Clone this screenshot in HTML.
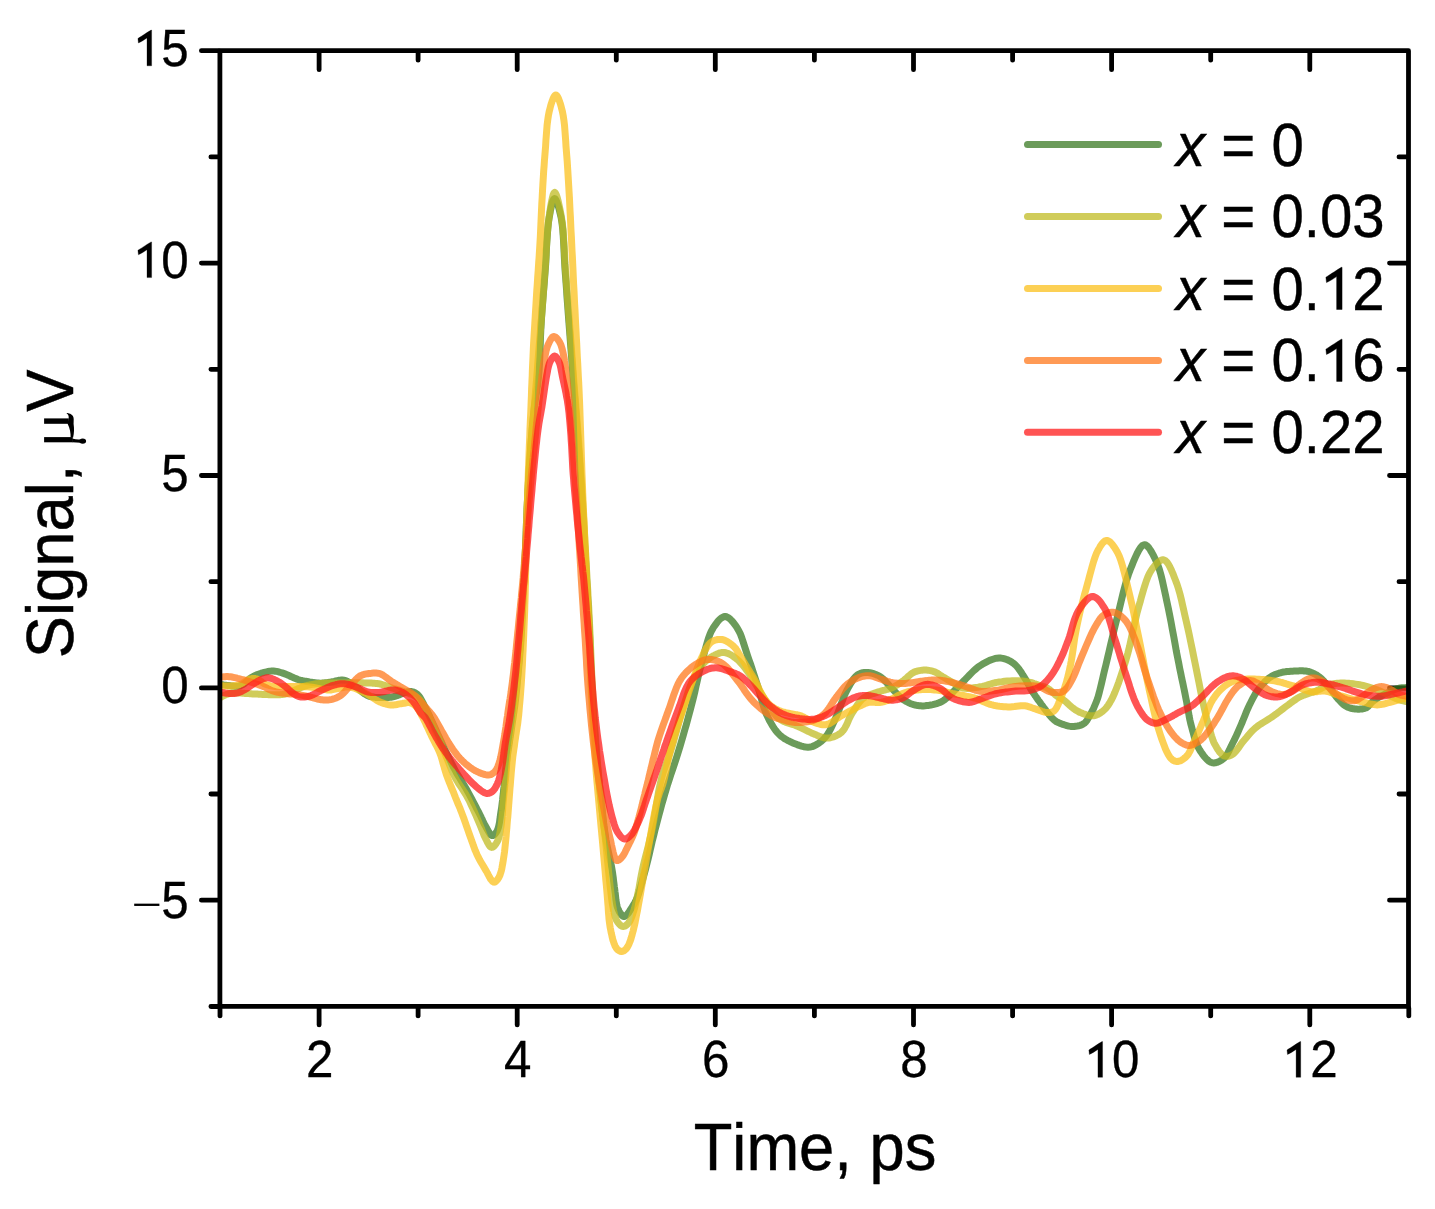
<!DOCTYPE html><html><head><meta charset="utf-8"><style>html,body{margin:0;padding:0;background:#fff;overflow:hidden}svg{display:block}</style></head><body><svg width="1435" height="1209" viewBox="0 0 1435 1209">
<rect width="100%" height="100%" fill="#fff"/>
<path d="M218.4,50.7h-17M218.4,263.1h-17M218.4,475.5h-17M218.4,687.9h-17M218.4,900.2h-17M218.4,156.9h-7.5M218.4,369.3h-7.5M218.4,581.7h-7.5M218.4,794.0h-7.5M218.4,1006.5h-7.5M1407.0,263.1h-17.5M1407.0,475.5h-17.5M1407.0,687.9h-17.5M1407.0,900.2h-17.5M1407.0,156.9h-8M1407.0,369.3h-8M1407.0,581.7h-8M1407.0,794.0h-8M319.1,1007.95v17M517.2,1007.95v17M715.3,1007.95v17M913.5,1007.95v17M1111.6,1007.95v17M1309.8,1007.95v17M220.0,1007.95v8M418.1,1007.95v8M616.3,1007.95v8M814.4,1007.95v8M1012.6,1007.95v8M1210.7,1007.95v8M1408.8,1007.95v8M319.1,52.15v17.5M517.2,52.15v17.5M715.3,52.15v17.5M913.5,52.15v17.5M1111.6,52.15v17.5M1309.8,52.15v17.5M418.1,52.15v8M616.3,52.15v8M814.4,52.15v8M1012.6,52.15v8M1210.7,52.15v8" fill="none" stroke="#000" stroke-width="4.8" stroke-linecap="round"/>
<defs><clipPath id="pc"><rect x="219.9" y="50.65" width="1188.6" height="955.8000000000001"/></clipPath></defs>
<g clip-path="url(#pc)" fill="none" stroke-width="7" stroke-linejoin="round" stroke-linecap="round">
<path d="M218.0,684.0 L219.4,684.2 L220.8,684.4 L222.2,684.6 L223.6,684.9 L225.0,685.1 L226.3,685.3 L227.7,685.4 L229.0,685.6 L230.1,685.7 L231.2,685.9 L232.4,686.0 L233.4,686.1 L234.5,686.2 L235.5,686.3 L236.5,686.3 L237.5,686.2 L238.2,686.1 L239.0,686.0 L239.6,685.8 L240.3,685.7 L241.0,685.4 L241.6,685.2 L242.3,684.9 L243.0,684.5 L244.0,683.9 L245.0,683.1 L246.0,682.2 L247.0,681.2 L248.0,680.2 L249.1,679.2 L250.2,678.3 L251.4,677.5 L252.7,676.8 L254.0,676.1 L255.4,675.4 L256.8,674.8 L258.3,674.2 L259.7,673.7 L261.2,673.2 L262.6,672.8 L264.0,672.4 L265.4,672.1 L266.7,671.8 L268.1,671.5 L269.5,671.3 L270.9,671.1 L272.3,671.1 L273.7,671.1 L275.1,671.2 L276.5,671.4 L277.9,671.7 L279.3,672.1 L280.7,672.5 L282.1,672.9 L283.5,673.4 L284.9,673.9 L286.5,674.5 L288.2,675.2 L289.9,676.0 L291.5,676.8 L293.2,677.5 L294.9,678.3 L296.5,678.9 L298.0,679.5 L299.2,679.9 L300.3,680.2 L301.4,680.4 L302.5,680.7 L303.6,680.9 L304.7,681.1 L305.8,681.3 L307.0,681.5 L308.5,681.8 L310.1,682.1 L311.7,682.3 L313.4,682.6 L315.1,682.8 L316.8,683.0 L318.4,683.1 L320.0,683.2 L321.4,683.2 L322.8,683.1 L324.2,683.0 L325.5,682.8 L326.9,682.6 L328.2,682.4 L329.6,682.2 L331.0,682.0 L332.6,681.7 L334.2,681.4 L335.8,681.0 L337.5,680.6 L339.1,680.3 L340.7,680.1 L342.3,680.0 L343.9,680.2 L345.5,680.6 L347.0,681.2 L348.5,682.0 L350.0,682.9 L351.5,683.9 L353.0,685.0 L354.5,686.0 L356.0,687.0 L357.5,688.1 L359.0,689.3 L360.4,690.5 L361.9,691.8 L363.4,693.0 L364.9,694.1 L366.6,695.1 L368.3,695.9 L370.5,696.6 L372.9,697.0 L375.4,697.4 L378.0,697.5 L380.5,697.6 L383.0,697.6 L385.3,697.6 L387.4,697.5 L388.6,697.4 L389.8,697.3 L390.9,697.2 L391.9,697.0 L393.0,696.8 L394.0,696.5 L395.0,696.3 L396.0,696.0 L397.0,695.7 L398.0,695.3 L399.0,694.9 L400.0,694.5 L401.0,694.1 L402.0,693.7 L403.0,693.3 L404.0,693.0 L405.0,692.7 L405.9,692.4 L406.9,692.2 L407.9,691.9 L408.8,691.7 L409.8,691.6 L410.7,691.5 L411.6,691.6 L412.5,691.8 L413.3,692.0 L414.1,692.3 L414.9,692.7 L415.7,693.2 L416.5,693.7 L417.3,694.3 L418.0,695.0 L419.0,696.1 L419.9,697.3 L420.7,698.7 L421.6,700.2 L422.4,701.8 L423.2,703.5 L424.1,705.2 L425.0,707.0 L426.3,709.6 L427.7,712.4 L429.2,715.4 L430.6,718.6 L432.1,721.7 L433.6,724.9 L435.0,728.0 L436.4,731.0 L437.6,733.7 L438.9,736.4 L440.1,739.1 L441.3,741.7 L442.4,744.3 L443.6,746.9 L444.8,749.5 L446.0,752.0 L447.1,754.3 L448.2,756.6 L449.3,758.8 L450.4,761.0 L451.5,763.2 L452.6,765.5 L453.8,767.7 L455.0,770.0 L456.4,772.6 L457.9,775.1 L459.5,777.7 L461.1,780.3 L462.7,783.0 L464.3,785.6 L465.9,788.3 L467.4,791.0 L469.0,793.9 L470.6,796.9 L472.3,800.0 L473.9,803.1 L475.5,806.1 L477.0,809.1 L478.5,811.9 L479.8,814.5 L480.7,816.3 L481.5,818.0 L482.3,819.6 L483.0,821.2 L483.7,822.7 L484.4,824.2 L485.2,825.6 L486.0,827.0 L486.7,828.3 L487.5,829.7 L488.3,831.1 L489.1,832.4 L489.8,833.7 L490.6,834.6 L491.4,835.3 L492.2,835.6 L492.8,835.5 L493.5,835.2 L494.2,834.8 L494.8,834.1 L495.5,833.4 L496.1,832.5 L496.7,831.6 L497.2,830.7 L497.9,829.0 L498.5,827.0 L499.0,824.8 L499.5,822.4 L499.8,819.9 L500.2,817.3 L500.5,814.7 L500.9,812.1 L501.4,809.2 L501.8,806.1 L502.2,803.0 L502.6,799.9 L502.9,796.7 L503.3,793.5 L503.6,790.3 L504.0,787.2 L504.3,784.1 L504.7,780.9 L505.0,777.7 L505.3,774.5 L505.6,771.4 L505.9,768.3 L506.2,765.3 L506.5,762.4 L506.8,760.1 L507.1,757.9 L507.4,755.7 L507.7,753.6 L508.0,751.5 L508.3,749.4 L508.7,747.2 L509.0,745.0 L509.4,742.6 L509.7,740.1 L510.1,737.7 L510.5,735.2 L510.9,732.7 L511.2,730.2 L511.6,727.6 L512.0,725.0 L512.4,722.0 L512.9,719.0 L513.3,715.9 L513.8,712.8 L514.2,709.7 L514.7,706.5 L515.1,703.3 L515.5,700.0 L515.9,696.4 L516.3,692.7 L516.7,689.0 L517.1,685.2 L517.4,681.4 L517.8,677.6 L518.2,673.8 L518.5,670.0 L518.8,666.3 L519.2,662.6 L519.5,658.9 L519.8,655.3 L520.1,651.6 L520.4,647.8 L520.7,644.0 L521.0,640.0 L521.3,635.3 L521.6,630.4 L521.8,625.4 L522.1,620.4 L522.3,615.3 L522.5,610.1 L522.8,605.0 L523.0,600.0 L523.2,595.1 L523.5,590.2 L523.7,585.4 L524.0,580.5 L524.2,575.6 L524.5,570.6 L524.7,565.4 L525.0,560.0 L525.3,553.0 L525.6,545.7 L525.9,538.1 L526.2,530.4 L526.5,522.6 L526.8,514.9 L527.1,507.3 L527.5,500.0 L527.8,493.5 L528.2,487.0 L528.5,480.7 L528.9,474.4 L529.3,468.1 L529.7,462.0 L530.1,455.9 L530.5,450.0 L530.9,444.8 L531.3,439.6 L531.7,434.5 L532.1,429.5 L532.5,424.5 L533.0,419.6 L533.5,414.8 L534.0,410.0 L534.5,405.7 L535.1,401.6 L535.7,397.6 L536.4,393.5 L537.0,389.5 L537.6,385.4 L538.1,381.0 L538.6,376.5 L539.1,370.5 L539.5,364.1 L539.8,357.5 L540.0,350.8 L540.3,343.9 L540.5,337.0 L540.8,330.2 L541.2,323.5 L541.6,316.9 L542.1,310.2 L542.6,303.6 L543.1,297.0 L543.6,290.4 L544.2,283.7 L544.7,277.1 L545.2,270.5 L545.7,263.7 L546.1,256.6 L546.4,249.4 L546.8,242.3 L547.3,235.4 L547.8,228.8 L548.4,222.8 L549.2,217.5 L549.8,214.4 L550.3,211.2 L551.0,208.0 L551.6,205.0 L552.3,202.4 L553.0,200.4 L553.8,199.0 L554.5,198.5 L555.3,199.0 L556.1,200.3 L557.0,202.4 L557.9,205.0 L558.8,207.9 L559.6,211.1 L560.4,214.4 L561.1,217.5 L562.0,222.8 L562.7,228.8 L563.2,235.4 L563.6,242.3 L564.0,249.4 L564.3,256.6 L564.7,263.7 L565.1,270.5 L565.6,277.1 L566.1,283.7 L566.6,290.4 L567.0,297.0 L567.5,303.6 L568.0,310.3 L568.5,316.9 L569.0,323.5 L569.5,330.1 L570.0,336.6 L570.5,343.2 L571.0,349.7 L571.5,356.3 L572.0,362.9 L572.5,369.6 L573.0,376.5 L573.6,384.2 L574.2,392.0 L574.9,400.0 L575.5,408.0 L576.2,416.1 L576.8,424.1 L577.4,432.1 L578.0,440.0 L578.5,447.6 L579.1,455.1 L579.6,462.6 L580.1,470.1 L580.6,477.6 L581.1,485.0 L581.5,492.5 L582.0,500.0 L582.5,507.5 L582.9,515.0 L583.4,522.4 L583.8,529.9 L584.2,537.4 L584.6,544.9 L585.1,552.4 L585.5,560.0 L585.9,567.8 L586.4,575.6 L586.8,583.4 L587.3,591.3 L587.7,599.2 L588.2,607.1 L588.6,615.0 L589.0,623.0 L589.4,631.3 L589.8,639.7 L590.1,648.1 L590.5,656.6 L590.8,665.1 L591.2,673.5 L591.6,681.8 L592.0,690.0 L592.4,697.7 L592.9,705.4 L593.3,713.0 L593.8,720.6 L594.3,728.1 L594.9,735.5 L595.4,742.8 L596.0,750.0 L596.6,756.5 L597.1,763.0 L597.8,769.3 L598.4,775.6 L599.0,781.9 L599.7,788.0 L600.3,794.1 L601.0,800.0 L601.6,805.3 L602.2,810.5 L602.7,815.6 L603.3,820.7 L603.9,825.7 L604.6,830.6 L605.3,835.3 L606.0,840.0 L606.7,843.9 L607.5,847.7 L608.3,851.5 L609.1,855.2 L609.9,858.8 L610.7,862.4 L611.4,865.9 L612.0,869.3 L612.5,872.3 L612.9,875.2 L613.3,878.1 L613.6,881.0 L614.0,883.8 L614.3,886.5 L614.7,889.1 L615.0,891.7 L615.3,893.7 L615.5,895.8 L615.7,897.7 L615.9,899.7 L616.2,901.5 L616.5,903.3 L616.8,905.0 L617.2,906.5 L617.5,907.5 L617.9,908.5 L618.3,909.5 L618.7,910.4 L619.1,911.3 L619.6,912.1 L620.0,912.8 L620.5,913.5 L620.9,914.0 L621.3,914.5 L621.7,915.0 L622.1,915.5 L622.6,915.9 L623.0,916.2 L623.5,916.4 L623.9,916.5 L624.3,916.5 L624.8,916.3 L625.3,916.0 L625.7,915.7 L626.2,915.3 L626.6,914.9 L627.1,914.4 L627.5,914.0 L627.9,913.5 L628.3,913.0 L628.7,912.5 L629.1,912.0 L629.4,911.4 L629.8,910.8 L630.2,910.2 L630.6,909.5 L631.3,908.4 L632.0,907.3 L632.7,906.2 L633.5,904.9 L634.3,903.6 L635.1,902.2 L635.9,900.6 L636.6,899.0 L637.8,896.1 L638.9,892.8 L640.0,889.2 L641.1,885.4 L642.2,881.5 L643.3,877.4 L644.4,873.3 L645.5,869.3 L646.7,864.7 L647.9,859.9 L649.1,855.0 L650.2,850.0 L651.4,845.0 L652.5,840.0 L653.8,835.0 L655.0,830.0 L656.3,825.0 L657.6,820.0 L658.9,815.1 L660.3,810.1 L661.6,805.1 L663.1,800.1 L664.5,795.1 L666.0,790.0 L667.6,784.6 L669.4,779.2 L671.1,773.8 L673.0,768.3 L674.8,762.8 L676.6,757.4 L678.3,751.9 L680.0,746.4 L681.6,741.0 L683.2,735.5 L684.7,730.1 L686.3,724.7 L687.8,719.2 L689.2,713.8 L690.7,708.3 L692.1,702.9 L693.5,697.4 L694.8,691.9 L696.0,686.3 L697.3,680.7 L698.5,675.2 L699.8,669.8 L701.1,664.6 L702.5,659.5 L703.7,655.2 L704.8,650.9 L706.0,646.6 L707.2,642.4 L708.4,638.4 L709.8,634.7 L711.3,631.2 L713.0,628.2 L714.3,626.2 L715.8,624.1 L717.3,622.1 L718.8,620.3 L720.4,618.8 L722.0,617.6 L723.6,616.8 L725.1,616.5 L726.6,616.8 L728.2,617.6 L729.8,618.8 L731.4,620.4 L733.0,622.2 L734.5,624.2 L736.0,626.2 L737.3,628.2 L738.9,631.0 L740.4,634.1 L741.7,637.5 L742.9,641.1 L744.1,644.8 L745.3,648.6 L746.5,652.3 L747.7,656.0 L749.0,659.8 L750.4,663.7 L751.7,667.7 L753.0,671.6 L754.3,675.6 L755.6,679.6 L756.9,683.5 L758.1,687.3 L759.2,690.9 L760.2,694.5 L761.2,698.1 L762.2,701.7 L763.2,705.2 L764.3,708.6 L765.5,711.9 L766.8,715.1 L768.1,717.8 L769.4,720.5 L770.9,723.1 L772.4,725.6 L773.9,728.0 L775.5,730.2 L777.2,732.3 L779.0,734.2 L780.6,735.7 L782.2,737.0 L783.9,738.2 L785.6,739.3 L787.4,740.3 L789.2,741.2 L791.0,742.1 L792.9,742.9 L794.9,743.7 L797.1,744.6 L799.3,745.4 L801.5,746.1 L803.7,746.7 L805.9,747.0 L808.0,747.2 L810.1,747.0 L812.1,746.6 L814.0,745.9 L815.9,744.9 L817.8,743.8 L819.6,742.6 L821.4,741.2 L823.0,739.7 L824.6,738.1 L826.3,736.1 L827.8,733.9 L829.3,731.5 L830.6,729.0 L831.9,726.3 L833.2,723.5 L834.4,720.8 L835.7,718.0 L837.2,714.7 L838.5,711.2 L839.9,707.5 L841.2,703.8 L842.6,700.2 L843.9,696.6 L845.4,693.3 L846.9,690.2 L848.2,687.9 L849.5,685.5 L850.8,683.3 L852.1,681.1 L853.5,679.1 L855.0,677.3 L856.5,675.8 L858.0,674.6 L859.2,673.9 L860.4,673.4 L861.6,673.0 L862.9,672.7 L864.2,672.5 L865.5,672.4 L866.8,672.4 L868.1,672.5 L869.6,672.7 L871.1,673.0 L872.7,673.4 L874.3,673.9 L875.8,674.5 L877.4,675.2 L878.9,675.9 L880.3,676.8 L881.8,677.9 L883.3,679.1 L884.7,680.5 L886.1,682.0 L887.4,683.5 L888.8,685.0 L890.1,686.6 L891.5,688.0 L892.9,689.4 L894.2,690.9 L895.6,692.4 L897.0,693.9 L898.3,695.3 L899.7,696.7 L901.1,698.0 L902.6,699.1 L903.9,700.0 L905.3,700.9 L906.7,701.7 L908.1,702.4 L909.5,703.1 L910.9,703.7 L912.4,704.2 L913.8,704.7 L915.2,705.1 L916.5,705.3 L917.9,705.6 L919.3,705.7 L920.7,705.8 L922.1,705.9 L923.5,705.9 L925.0,705.8 L926.8,705.6 L928.8,705.4 L930.8,705.0 L932.8,704.6 L934.8,704.1 L936.7,703.6 L938.4,703.0 L940.0,702.4 L941.0,702.0 L941.9,701.5 L942.7,701.0 L943.4,700.5 L944.2,700.0 L944.9,699.4 L945.8,698.7 L946.7,698.0 L948.5,696.5 L950.4,694.6 L952.5,692.5 L954.6,690.3 L956.8,688.0 L959.0,685.7 L961.3,683.4 L963.4,681.3 L965.5,679.2 L967.5,677.1 L969.5,675.0 L971.6,672.9 L973.6,670.9 L975.8,669.0 L977.9,667.2 L980.2,665.6 L982.4,664.2 L984.8,662.9 L987.2,661.6 L989.6,660.4 L992.1,659.5 L994.5,658.7 L996.8,658.2 L999.1,658.0 L1001.0,658.1 L1002.9,658.4 L1004.8,658.9 L1006.7,659.5 L1008.5,660.3 L1010.3,661.2 L1012.0,662.3 L1013.6,663.4 L1015.3,664.9 L1017.0,666.6 L1018.6,668.6 L1020.1,670.7 L1021.5,672.8 L1022.8,675.0 L1024.1,677.0 L1025.3,678.9 L1026.2,680.3 L1026.9,681.7 L1027.6,683.0 L1028.3,684.3 L1029.0,685.6 L1029.6,686.9 L1030.3,688.2 L1031.0,689.4 L1031.7,690.5 L1032.4,691.6 L1033.1,692.7 L1033.9,693.8 L1034.6,694.8 L1035.3,695.9 L1036.1,696.9 L1036.8,698.0 L1037.5,699.0 L1038.2,700.1 L1039.0,701.1 L1039.7,702.1 L1040.4,703.1 L1041.1,704.1 L1041.9,705.1 L1042.6,706.1 L1043.3,707.1 L1044.0,708.0 L1044.8,709.0 L1045.5,710.0 L1046.2,710.9 L1046.9,711.9 L1047.7,712.8 L1048.4,713.7 L1049.1,714.6 L1049.8,715.4 L1050.6,716.3 L1051.3,717.1 L1052.0,717.9 L1052.8,718.7 L1053.5,719.4 L1054.2,720.0 L1054.7,720.4 L1055.1,720.8 L1055.6,721.1 L1056.0,721.4 L1056.5,721.7 L1057.0,721.9 L1057.6,722.2 L1058.2,722.5 L1059.6,723.1 L1061.2,723.7 L1063.0,724.4 L1064.9,725.0 L1066.8,725.6 L1068.8,726.1 L1070.7,726.4 L1072.5,726.5 L1074.0,726.5 L1075.6,726.3 L1077.1,726.1 L1078.6,725.8 L1080.1,725.4 L1081.5,724.9 L1082.7,724.3 L1083.9,723.6 L1084.8,722.9 L1085.6,722.1 L1086.3,721.2 L1087.0,720.3 L1087.6,719.3 L1088.2,718.3 L1088.8,717.1 L1089.5,716.0 L1090.5,714.3 L1091.4,712.6 L1092.4,710.7 L1093.4,708.8 L1094.3,706.7 L1095.2,704.5 L1096.1,702.3 L1097.0,700.0 L1098.1,696.8 L1099.0,693.5 L1099.9,690.0 L1100.8,686.4 L1101.7,682.6 L1102.6,678.7 L1103.5,674.7 L1104.5,670.5 L1106.0,664.5 L1107.5,658.1 L1109.1,651.4 L1110.7,644.4 L1112.4,637.4 L1114.0,630.3 L1115.7,623.4 L1117.4,616.8 L1118.9,610.6 L1120.4,604.4 L1121.9,598.1 L1123.4,591.9 L1125.0,585.9 L1126.6,580.1 L1128.4,574.6 L1130.3,569.5 L1131.9,565.6 L1133.5,561.5 L1135.3,557.4 L1137.1,553.5 L1138.9,550.1 L1140.7,547.3 L1142.5,545.4 L1144.3,544.7 L1145.8,545.0 L1147.3,546.1 L1148.9,547.9 L1150.4,550.1 L1151.9,552.6 L1153.4,555.4 L1154.8,558.2 L1156.1,560.9 L1157.8,565.0 L1159.4,569.5 L1160.8,574.4 L1162.1,579.6 L1163.3,585.0 L1164.5,590.5 L1165.7,596.1 L1166.9,601.7 L1168.3,608.3 L1169.7,615.2 L1171.1,622.4 L1172.4,629.7 L1173.8,636.9 L1175.1,644.1 L1176.3,651.0 L1177.6,657.6 L1178.7,663.0 L1179.7,668.3 L1180.8,673.5 L1181.8,678.6 L1182.9,683.6 L1183.9,688.4 L1184.9,693.2 L1185.8,697.9 L1186.6,701.8 L1187.2,705.6 L1187.9,709.3 L1188.6,712.9 L1189.2,716.5 L1189.9,720.0 L1190.7,723.5 L1191.6,726.9 L1192.4,730.0 L1193.3,733.1 L1194.1,736.2 L1195.0,739.2 L1196.0,742.1 L1197.1,744.9 L1198.3,747.6 L1199.7,750.0 L1201.0,752.0 L1202.5,754.1 L1204.0,756.2 L1205.6,758.1 L1207.3,759.8 L1209.0,761.2 L1210.7,762.2 L1212.4,762.8 L1213.8,762.9 L1215.3,762.8 L1216.9,762.4 L1218.4,761.8 L1219.9,761.1 L1221.4,760.2 L1222.7,759.2 L1224.0,758.2 L1225.3,756.9 L1226.4,755.4 L1227.5,753.7 L1228.4,751.9 L1229.3,750.1 L1230.2,748.1 L1231.2,746.2 L1232.1,744.3 L1233.1,742.3 L1234.2,740.2 L1235.2,738.0 L1236.2,735.9 L1237.2,733.7 L1238.2,731.5 L1239.2,729.2 L1240.2,726.9 L1241.3,724.3 L1242.5,721.5 L1243.6,718.7 L1244.8,715.8 L1245.9,713.0 L1247.1,710.2 L1248.3,707.5 L1249.5,704.9 L1250.6,702.7 L1251.7,700.5 L1252.8,698.4 L1253.9,696.4 L1255.0,694.4 L1256.2,692.4 L1257.5,690.5 L1258.8,688.7 L1260.1,687.0 L1261.5,685.4 L1262.9,683.8 L1264.3,682.3 L1265.8,680.8 L1267.3,679.5 L1268.8,678.2 L1270.4,677.1 L1271.8,676.2 L1273.1,675.5 L1274.5,674.8 L1276.0,674.2 L1277.4,673.7 L1278.9,673.2 L1280.4,672.8 L1281.9,672.4 L1283.6,672.0 L1285.3,671.8 L1287.1,671.5 L1288.9,671.4 L1290.7,671.2 L1292.5,671.2 L1294.2,671.1 L1295.8,671.0 L1297.0,670.9 L1298.3,670.9 L1299.5,670.8 L1300.6,670.8 L1301.7,670.8 L1302.8,670.8 L1303.9,670.9 L1305.0,671.0 L1305.9,671.1 L1306.8,671.2 L1307.6,671.4 L1308.4,671.5 L1309.3,671.7 L1310.1,672.0 L1310.9,672.3 L1311.8,672.6 L1312.9,673.1 L1314.0,673.6 L1315.1,674.2 L1316.2,674.8 L1317.3,675.5 L1318.4,676.3 L1319.5,677.1 L1320.5,677.9 L1321.6,678.9 L1322.8,680.0 L1323.9,681.2 L1324.9,682.4 L1326.0,683.6 L1327.1,684.9 L1328.1,686.2 L1329.2,687.5 L1330.3,688.9 L1331.4,690.3 L1332.5,691.8 L1333.5,693.2 L1334.6,694.7 L1335.7,696.1 L1336.8,697.5 L1337.9,698.8 L1338.9,699.9 L1340.0,701.0 L1341.0,702.1 L1342.0,703.2 L1343.1,704.2 L1344.2,705.1 L1345.4,705.9 L1346.6,706.6 L1347.9,707.2 L1349.3,707.7 L1350.7,708.2 L1352.2,708.5 L1353.6,708.8 L1355.1,709.0 L1356.5,709.1 L1357.9,709.2 L1359.1,709.2 L1360.2,709.1 L1361.4,709.0 L1362.5,708.9 L1363.6,708.6 L1364.7,708.3 L1365.7,708.0 L1366.7,707.5 L1367.6,706.9 L1368.3,706.3 L1369.0,705.5 L1369.7,704.7 L1370.4,703.9 L1371.1,703.0 L1371.9,702.2 L1372.8,701.4 L1374.2,700.4 L1375.6,699.4 L1377.2,698.3 L1378.9,697.3 L1380.6,696.3 L1382.4,695.4 L1384.1,694.5 L1385.8,693.6 L1387.4,692.8 L1389.0,692.0 L1390.7,691.2 L1392.3,690.5 L1394.0,689.9 L1395.6,689.2 L1397.3,688.7 L1398.9,688.3 L1400.4,688.0 L1401.9,687.8 L1403.4,687.7 L1405.0,687.7 L1406.5,687.6 L1408.0,687.6 L1409.5,687.6 L1411.0,687.5" stroke="#3a7a23" stroke-opacity="0.75"/>
<path d="M218.0,699.0 L218.7,698.6 L219.5,698.1 L220.2,697.6 L221.0,697.2 L221.7,696.7 L222.5,696.3 L223.2,695.9 L224.0,695.5 L224.7,695.2 L225.5,694.9 L226.2,694.6 L226.9,694.3 L227.7,694.1 L228.4,693.9 L229.2,693.7 L230.0,693.5 L230.9,693.3 L231.9,693.2 L232.9,693.1 L234.0,693.1 L235.0,693.0 L236.0,693.0 L237.0,693.0 L238.0,693.0 L238.9,693.0 L239.8,693.0 L240.6,693.1 L241.5,693.1 L242.3,693.2 L243.2,693.3 L244.1,693.3 L245.0,693.4 L246.2,693.5 L247.4,693.5 L248.6,693.6 L249.9,693.7 L251.2,693.8 L252.5,693.9 L253.7,693.9 L255.0,694.0 L256.2,694.1 L257.5,694.1 L258.7,694.2 L260.0,694.3 L261.2,694.3 L262.5,694.4 L263.7,694.4 L265.0,694.5 L266.2,694.6 L267.5,694.6 L268.8,694.7 L270.0,694.7 L271.3,694.8 L272.5,694.8 L273.8,694.8 L275.0,694.8 L276.3,694.8 L277.5,694.7 L278.8,694.7 L280.0,694.7 L281.3,694.6 L282.5,694.4 L283.8,694.3 L285.0,694.0 L286.3,693.7 L287.5,693.2 L288.8,692.7 L290.0,692.2 L291.3,691.6 L292.5,691.1 L293.8,690.5 L295.0,690.0 L296.2,689.5 L297.5,689.0 L298.7,688.4 L300.0,687.9 L301.2,687.4 L302.5,686.9 L303.7,686.4 L305.0,686.0 L306.2,685.7 L307.5,685.3 L308.7,685.1 L310.0,684.8 L311.2,684.6 L312.5,684.4 L313.7,684.2 L315.0,684.0 L316.2,683.8 L317.4,683.7 L318.7,683.6 L319.9,683.5 L321.1,683.4 L322.4,683.3 L323.7,683.3 L325.0,683.2 L326.7,683.1 L328.6,683.1 L330.5,683.1 L332.4,683.0 L334.4,683.0 L336.3,683.0 L338.2,683.0 L340.0,683.0 L341.6,683.0 L343.1,682.9 L344.5,682.9 L346.0,682.9 L347.4,682.9 L348.9,682.8 L350.4,682.8 L352.0,682.8 L353.9,682.8 L356.0,682.8 L358.0,682.8 L360.2,682.8 L362.3,682.8 L364.4,682.9 L366.4,682.9 L368.3,683.0 L369.9,683.1 L371.4,683.1 L372.8,683.2 L374.3,683.3 L375.7,683.4 L377.1,683.5 L378.6,683.7 L380.0,684.0 L381.5,684.4 L383.0,684.8 L384.5,685.3 L386.0,685.8 L387.5,686.4 L389.0,686.9 L390.5,687.5 L392.0,688.0 L393.6,688.5 L395.2,689.0 L396.8,689.4 L398.5,689.9 L400.1,690.4 L401.8,690.9 L403.4,691.4 L405.0,692.0 L406.7,692.6 L408.4,693.2 L410.1,693.9 L411.9,694.6 L413.6,695.3 L415.2,696.1 L416.6,697.0 L418.0,698.0 L419.1,699.0 L420.1,700.1 L421.0,701.2 L421.8,702.4 L422.6,703.7 L423.3,705.0 L424.1,706.5 L425.0,708.0 L426.4,710.6 L427.8,713.4 L429.3,716.5 L430.7,719.8 L432.2,723.2 L433.6,726.5 L435.0,729.8 L436.4,733.0 L437.7,735.9 L438.9,738.8 L440.1,741.7 L441.3,744.6 L442.5,747.5 L443.6,750.3 L444.8,753.2 L446.0,756.0 L447.1,758.7 L448.2,761.4 L449.2,764.1 L450.3,766.8 L451.4,769.5 L452.5,772.1 L453.7,774.7 L455.0,777.3 L456.4,779.8 L457.9,782.3 L459.5,784.7 L461.1,787.1 L462.7,789.5 L464.3,792.0 L465.9,794.5 L467.4,797.2 L469.1,800.4 L470.7,803.9 L472.4,807.4 L474.0,811.0 L475.6,814.6 L477.1,818.1 L478.5,821.4 L479.8,824.5 L480.7,826.6 L481.5,828.7 L482.3,830.6 L483.0,832.5 L483.7,834.4 L484.4,836.1 L485.2,837.8 L486.0,839.4 L486.7,840.7 L487.3,842.0 L488.0,843.3 L488.7,844.5 L489.4,845.6 L490.1,846.5 L490.9,847.1 L491.6,847.4 L492.3,847.3 L493.0,847.0 L493.8,846.4 L494.5,845.6 L495.3,844.7 L496.0,843.8 L496.6,842.8 L497.2,841.8 L497.9,840.4 L498.5,838.8 L499.0,837.1 L499.4,835.2 L499.8,833.3 L500.2,831.2 L500.5,829.1 L500.9,827.0 L501.3,824.0 L501.7,820.7 L502.0,817.3 L502.3,813.8 L502.6,810.2 L502.8,806.6 L503.1,803.0 L503.4,799.6 L503.7,796.4 L504.0,793.3 L504.4,790.2 L504.7,787.1 L505.0,784.0 L505.3,781.0 L505.6,777.9 L505.9,774.8 L506.1,771.7 L506.4,768.5 L506.6,765.4 L506.8,762.2 L507.0,759.1 L507.2,756.0 L507.4,753.0 L507.7,750.0 L508.0,747.4 L508.3,744.9 L508.7,742.4 L509.0,740.0 L509.4,737.6 L509.8,735.1 L510.1,732.6 L510.5,730.0 L510.9,727.0 L511.4,724.0 L511.8,720.9 L512.2,717.8 L512.7,714.7 L513.1,711.5 L513.6,708.3 L514.0,705.0 L514.5,701.4 L514.9,697.8 L515.4,694.1 L515.8,690.3 L516.3,686.5 L516.7,682.7 L517.1,678.9 L517.5,675.0 L517.9,670.8 L518.3,666.5 L518.7,662.2 L519.1,657.8 L519.5,653.4 L519.8,649.0 L520.2,644.5 L520.5,640.0 L520.8,635.1 L521.1,630.2 L521.4,625.2 L521.7,620.2 L522.0,615.1 L522.3,610.1 L522.5,605.0 L522.8,600.0 L523.1,595.1 L523.4,590.2 L523.6,585.4 L523.9,580.5 L524.2,575.6 L524.5,570.6 L524.7,565.4 L525.0,560.0 L525.3,553.0 L525.6,545.7 L525.9,538.1 L526.2,530.4 L526.5,522.6 L526.8,514.9 L527.1,507.3 L527.5,500.0 L527.8,493.5 L528.2,487.0 L528.5,480.7 L528.9,474.4 L529.3,468.1 L529.7,462.0 L530.1,455.9 L530.5,450.0 L530.9,444.9 L531.3,440.0 L531.7,435.3 L532.1,430.7 L532.6,425.9 L533.0,421.0 L533.5,415.7 L534.0,410.0 L534.8,400.6 L535.6,390.2 L536.6,379.1 L537.5,367.5 L538.4,355.8 L539.3,344.4 L540.2,333.5 L541.0,323.5 L541.6,316.3 L542.1,309.3 L542.6,302.7 L543.1,296.2 L543.6,289.8 L544.0,283.4 L544.5,277.0 L545.0,270.5 L545.5,263.7 L545.9,256.8 L546.3,249.7 L546.7,242.7 L547.1,235.9 L547.7,229.3 L548.3,223.2 L549.0,217.5 L549.6,213.6 L550.2,209.4 L550.9,205.2 L551.6,201.3 L552.4,197.8 L553.1,195.0 L553.9,193.2 L554.7,192.5 L555.5,193.2 L556.4,195.0 L557.3,197.8 L558.2,201.2 L559.1,205.2 L560.0,209.4 L560.8,213.6 L561.5,217.5 L562.3,223.2 L563.0,229.3 L563.5,235.9 L563.9,242.7 L564.3,249.7 L564.7,256.8 L565.0,263.7 L565.5,270.5 L566.0,277.1 L566.5,283.8 L567.0,290.4 L567.5,297.0 L568.0,303.6 L568.5,310.2 L569.0,316.9 L569.5,323.5 L570.0,330.1 L570.5,336.6 L571.0,343.2 L571.5,349.7 L572.0,356.3 L572.5,362.9 L573.0,369.6 L573.5,376.5 L574.1,384.2 L574.7,392.0 L575.4,400.0 L576.0,408.0 L576.7,416.1 L577.3,424.1 L577.9,432.1 L578.5,440.0 L579.0,447.6 L579.6,455.1 L580.1,462.6 L580.6,470.1 L581.1,477.6 L581.6,485.0 L582.0,492.5 L582.5,500.0 L583.0,507.5 L583.4,515.0 L583.9,522.4 L584.3,529.9 L584.7,537.4 L585.1,544.9 L585.6,552.4 L586.0,560.0 L586.4,567.8 L586.9,575.6 L587.3,583.4 L587.8,591.3 L588.2,599.2 L588.7,607.1 L589.1,615.0 L589.5,623.0 L589.9,631.3 L590.3,639.7 L590.6,648.1 L591.0,656.6 L591.3,665.1 L591.7,673.5 L592.1,681.8 L592.5,690.0 L592.9,697.7 L593.4,705.4 L593.9,713.0 L594.4,720.6 L594.9,728.1 L595.4,735.5 L595.9,742.8 L596.5,750.0 L597.0,756.5 L597.5,762.9 L598.1,769.2 L598.7,775.5 L599.2,781.6 L599.8,787.8 L600.4,793.9 L601.0,800.0 L601.6,805.8 L602.2,811.5 L602.9,817.2 L603.5,822.8 L604.2,828.4 L604.8,834.0 L605.4,839.5 L606.0,845.0 L606.5,850.2 L607.0,855.4 L607.5,860.6 L608.0,865.7 L608.5,870.8 L609.0,875.7 L609.5,880.5 L610.0,885.0 L610.4,888.5 L610.8,891.9 L611.2,895.2 L611.6,898.5 L612.0,901.6 L612.5,904.6 L613.0,907.4 L613.5,910.0 L613.9,911.7 L614.3,913.3 L614.6,914.9 L615.0,916.3 L615.5,917.7 L616.0,919.1 L616.5,920.3 L617.2,921.4 L617.8,922.3 L618.5,923.2 L619.2,924.0 L620.0,924.8 L620.8,925.5 L621.6,926.0 L622.4,926.4 L623.2,926.5 L623.9,926.4 L624.7,926.2 L625.5,925.7 L626.3,925.2 L627.0,924.5 L627.8,923.8 L628.5,923.0 L629.1,922.2 L629.9,921.0 L630.6,919.7 L631.2,918.3 L631.8,916.7 L632.4,915.1 L632.9,913.4 L633.5,911.7 L634.0,910.0 L634.6,908.0 L635.1,906.0 L635.6,904.0 L636.1,901.9 L636.6,899.7 L637.1,897.5 L637.5,895.3 L638.0,893.0 L638.6,890.3 L639.1,887.5 L639.6,884.7 L640.1,881.8 L640.6,878.8 L641.2,875.7 L641.8,872.6 L642.5,869.3 L643.5,864.9 L644.6,860.3 L645.8,855.5 L647.1,850.6 L648.4,845.5 L649.6,840.4 L650.8,835.2 L652.0,830.0 L653.2,824.0 L654.3,817.6 L655.4,811.1 L656.4,804.6 L657.5,798.0 L658.6,791.7 L659.8,785.7 L661.1,780.0 L662.2,775.9 L663.4,772.0 L664.6,768.3 L665.9,764.7 L667.2,761.2 L668.5,757.6 L669.7,753.9 L671.0,750.0 L672.4,745.4 L673.8,740.7 L675.1,735.9 L676.5,731.0 L677.9,726.1 L679.2,721.3 L680.6,716.6 L682.0,712.0 L683.2,708.0 L684.4,704.0 L685.6,700.1 L686.8,696.2 L688.0,692.4 L689.3,688.7 L690.6,685.3 L692.0,682.0 L693.1,679.5 L694.3,677.2 L695.5,674.9 L696.7,672.7 L697.9,670.6 L699.2,668.6 L700.6,666.8 L702.0,665.0 L703.3,663.6 L704.6,662.3 L705.9,661.0 L707.3,659.9 L708.7,658.8 L710.1,657.8 L711.5,656.8 L713.0,656.0 L714.4,655.3 L715.7,654.6 L717.1,654.0 L718.6,653.4 L720.0,652.9 L721.4,652.6 L722.9,652.5 L724.3,652.5 L725.9,652.8 L727.6,653.3 L729.2,654.0 L730.9,654.9 L732.5,655.9 L734.2,657.1 L735.8,658.3 L737.3,659.5 L739.0,661.0 L740.7,662.8 L742.3,664.6 L743.9,666.6 L745.5,668.6 L747.0,670.7 L748.5,672.9 L750.0,675.0 L751.6,677.3 L753.1,679.7 L754.5,682.2 L755.9,684.7 L757.4,687.3 L758.8,689.8 L760.4,692.4 L762.0,695.0 L763.9,698.0 L765.9,701.2 L767.9,704.5 L769.9,707.7 L772.1,710.9 L774.3,713.8 L776.6,716.4 L779.0,718.6 L781.0,720.0 L783.2,721.2 L785.4,722.1 L787.7,722.9 L790.0,723.6 L792.2,724.3 L794.5,725.0 L796.7,725.9 L798.8,726.9 L801.0,727.9 L803.1,728.9 L805.2,729.9 L807.3,731.0 L809.3,731.9 L811.4,732.9 L813.4,733.7 L815.1,734.4 L816.8,735.2 L818.5,735.9 L820.1,736.6 L821.8,737.2 L823.4,737.7 L825.1,738.0 L826.8,738.1 L828.6,738.0 L830.5,737.7 L832.4,737.2 L834.3,736.6 L836.2,735.8 L838.0,734.8 L839.7,733.7 L841.3,732.5 L843.0,730.7 L844.6,728.4 L846.0,725.9 L847.3,723.2 L848.5,720.3 L849.8,717.6 L851.1,714.9 L852.5,712.5 L853.8,710.5 L855.1,708.5 L856.3,706.5 L857.6,704.6 L859.0,702.7 L860.4,701.0 L861.9,699.4 L863.6,698.0 L865.4,696.8 L867.4,695.7 L869.6,694.8 L871.8,694.0 L874.0,693.3 L876.2,692.6 L878.3,691.9 L880.3,691.3 L881.8,690.8 L883.3,690.4 L884.7,690.1 L886.1,689.7 L887.4,689.4 L888.8,689.0 L890.1,688.5 L891.5,688.0 L892.9,687.3 L894.3,686.6 L895.7,685.8 L897.1,685.0 L898.5,684.1 L899.9,683.2 L901.2,682.2 L902.6,681.3 L904.0,680.2 L905.4,679.0 L906.8,677.8 L908.1,676.5 L909.5,675.3 L910.9,674.1 L912.3,673.1 L913.8,672.3 L915.1,671.7 L916.5,671.3 L917.9,670.9 L919.4,670.6 L920.8,670.4 L922.2,670.2 L923.6,670.1 L925.0,670.1 L926.3,670.1 L927.6,670.2 L928.9,670.4 L930.2,670.6 L931.5,670.9 L932.7,671.2 L933.9,671.6 L935.0,672.0 L935.8,672.4 L936.6,672.8 L937.4,673.2 L938.1,673.7 L938.8,674.1 L939.5,674.7 L940.3,675.2 L941.1,675.7 L942.3,676.5 L943.7,677.3 L945.0,678.1 L946.5,679.0 L947.9,679.9 L949.4,680.7 L950.9,681.6 L952.3,682.4 L953.7,683.2 L955.0,684.0 L956.3,684.8 L957.6,685.6 L959.0,686.4 L960.4,687.1 L961.9,687.6 L963.4,688.0 L965.3,688.3 L967.3,688.4 L969.4,688.3 L971.6,688.1 L973.7,687.8 L975.9,687.5 L978.1,687.2 L980.2,686.8 L982.3,686.4 L984.4,685.9 L986.4,685.3 L988.5,684.6 L990.5,684.0 L992.6,683.4 L994.7,682.8 L996.9,682.4 L999.3,682.0 L1001.9,681.7 L1004.5,681.3 L1007.1,681.1 L1009.7,680.9 L1012.2,680.8 L1014.7,680.7 L1017.0,680.7 L1018.8,680.8 L1020.6,680.9 L1022.3,681.0 L1024.0,681.2 L1025.6,681.5 L1027.2,681.8 L1028.8,682.1 L1030.3,682.4 L1031.6,682.7 L1032.9,683.1 L1034.1,683.5 L1035.4,683.9 L1036.6,684.4 L1037.7,684.8 L1038.9,685.2 L1040.0,685.6 L1040.9,685.9 L1041.8,686.1 L1042.7,686.4 L1043.6,686.6 L1044.5,686.9 L1045.3,687.2 L1046.2,687.5 L1047.1,688.0 L1048.3,688.8 L1049.6,689.7 L1050.9,690.8 L1052.2,692.0 L1053.5,693.2 L1054.8,694.3 L1056.0,695.4 L1057.2,696.3 L1058.1,696.9 L1058.9,697.4 L1059.7,697.8 L1060.5,698.2 L1061.3,698.7 L1062.1,699.1 L1062.9,699.6 L1063.8,700.2 L1065.0,701.1 L1066.3,702.2 L1067.6,703.4 L1069.0,704.7 L1070.3,705.9 L1071.7,707.1 L1073.0,708.2 L1074.4,709.2 L1075.6,710.0 L1076.8,710.7 L1078.0,711.3 L1079.1,712.0 L1080.3,712.6 L1081.6,713.1 L1082.8,713.6 L1084.0,714.0 L1085.2,714.4 L1086.4,714.8 L1087.7,715.1 L1088.9,715.4 L1090.2,715.6 L1091.4,715.8 L1092.6,715.8 L1093.8,715.7 L1095.0,715.5 L1096.2,715.1 L1097.4,714.6 L1098.6,714.0 L1099.7,713.4 L1100.9,712.6 L1101.9,711.8 L1103.0,711.0 L1104.1,710.0 L1105.2,709.0 L1106.2,707.9 L1107.1,706.7 L1108.1,705.4 L1109.0,703.9 L1110.0,702.3 L1111.0,700.6 L1112.9,696.9 L1114.8,692.5 L1116.7,687.7 L1118.7,682.4 L1120.6,676.8 L1122.5,671.1 L1124.3,665.4 L1126.0,659.8 L1127.8,653.4 L1129.5,646.7 L1131.0,639.7 L1132.5,632.7 L1134.0,625.7 L1135.6,618.9 L1137.2,612.3 L1138.9,606.0 L1140.4,600.9 L1141.8,595.7 L1143.3,590.6 L1144.8,585.6 L1146.3,581.0 L1148.0,576.6 L1149.8,572.8 L1151.8,569.5 L1153.2,567.6 L1154.6,565.8 L1156.1,564.1 L1157.7,562.5 L1159.3,561.3 L1160.8,560.3 L1162.3,559.8 L1163.7,559.8 L1165.4,560.6 L1167.0,562.2 L1168.5,564.4 L1170.0,567.2 L1171.5,570.3 L1172.9,573.6 L1174.2,577.0 L1175.5,580.2 L1177.1,584.5 L1178.6,589.2 L1180.0,594.1 L1181.3,599.3 L1182.5,604.7 L1183.7,610.1 L1184.9,615.6 L1186.2,621.1 L1187.7,627.6 L1189.2,634.4 L1190.6,641.4 L1192.1,648.5 L1193.5,655.5 L1194.9,662.4 L1196.2,668.8 L1197.4,674.8 L1198.2,678.9 L1199.0,682.7 L1199.7,686.4 L1200.4,690.0 L1201.1,693.5 L1201.8,696.9 L1202.5,700.3 L1203.2,703.7 L1203.9,706.8 L1204.6,709.8 L1205.3,712.8 L1206.0,715.7 L1206.7,718.6 L1207.5,721.4 L1208.2,724.2 L1209.0,726.9 L1209.7,729.2 L1210.3,731.6 L1210.9,733.8 L1211.6,736.1 L1212.3,738.2 L1213.0,740.4 L1213.8,742.4 L1214.8,744.3 L1215.8,746.0 L1216.8,747.8 L1217.9,749.5 L1219.0,751.2 L1220.2,752.7 L1221.5,754.1 L1222.7,755.1 L1224.0,755.8 L1225.0,756.1 L1226.0,756.3 L1227.0,756.3 L1228.0,756.2 L1229.0,756.0 L1230.1,755.6 L1231.1,755.2 L1232.1,754.7 L1233.6,753.7 L1235.0,752.2 L1236.5,750.5 L1237.9,748.6 L1239.4,746.6 L1240.8,744.6 L1242.2,742.6 L1243.7,740.8 L1245.1,739.1 L1246.5,737.5 L1247.9,735.8 L1249.2,734.2 L1250.6,732.6 L1252.1,731.0 L1253.7,729.5 L1255.3,728.0 L1257.3,726.4 L1259.4,724.9 L1261.6,723.5 L1263.8,722.1 L1266.1,720.7 L1268.4,719.3 L1270.6,717.9 L1272.7,716.5 L1274.5,715.2 L1276.3,713.9 L1278.1,712.5 L1279.8,711.2 L1281.5,709.9 L1283.2,708.6 L1284.9,707.3 L1286.6,706.0 L1288.3,704.8 L1289.9,703.6 L1291.5,702.3 L1293.2,701.1 L1294.8,700.0 L1296.5,698.8 L1298.2,697.8 L1300.0,696.8 L1301.9,695.9 L1303.9,695.1 L1305.9,694.4 L1308.0,693.7 L1310.1,693.0 L1312.2,692.3 L1314.2,691.7 L1316.1,690.9 L1317.8,690.1 L1319.5,689.3 L1321.1,688.5 L1322.7,687.6 L1324.3,686.8 L1325.9,686.0 L1327.5,685.4 L1329.2,684.8 L1330.8,684.4 L1332.4,684.0 L1334.0,683.7 L1335.6,683.5 L1337.2,683.3 L1338.9,683.2 L1340.6,683.1 L1342.3,683.1 L1344.4,683.1 L1346.5,683.2 L1348.8,683.3 L1351.0,683.6 L1353.3,683.8 L1355.5,684.1 L1357.6,684.4 L1359.7,684.8 L1361.4,685.1 L1363.1,685.5 L1364.8,685.9 L1366.4,686.3 L1368.0,686.8 L1369.6,687.3 L1371.2,687.8 L1372.8,688.3 L1374.4,688.9 L1376.1,689.5 L1377.7,690.1 L1379.3,690.8 L1380.9,691.5 L1382.6,692.2 L1384.2,692.9 L1385.8,693.6 L1387.4,694.4 L1389.1,695.2 L1390.7,696.0 L1392.4,696.8 L1394.0,697.6 L1395.6,698.4 L1397.3,699.1 L1398.9,699.7 L1400.4,700.2 L1401.9,700.6 L1403.4,700.9 L1405.0,701.2 L1406.5,701.5 L1408.0,701.7 L1409.5,702.0 L1411.0,702.3" stroke="#c0bb23" stroke-opacity="0.75"/>
<path d="M218.0,685.5 L219.5,685.6 L221.0,685.7 L222.6,685.8 L224.1,685.9 L225.6,686.0 L227.1,686.0 L228.6,686.0 L230.0,686.0 L231.3,685.9 L232.6,685.8 L233.8,685.7 L235.1,685.6 L236.3,685.4 L237.6,685.2 L238.8,684.9 L240.0,684.5 L241.3,684.0 L242.6,683.3 L243.8,682.5 L245.1,681.6 L246.4,680.8 L247.6,680.0 L248.8,679.4 L250.0,679.0 L250.9,678.8 L251.8,678.6 L252.7,678.5 L253.6,678.5 L254.4,678.5 L255.3,678.6 L256.1,678.8 L257.0,679.0 L258.0,679.4 L259.0,679.9 L259.9,680.6 L260.9,681.3 L261.9,682.1 L262.9,682.8 L263.9,683.5 L265.0,684.0 L266.2,684.5 L267.3,684.9 L268.5,685.2 L269.8,685.6 L271.0,685.9 L272.3,686.1 L273.6,686.3 L275.0,686.5 L276.7,686.7 L278.5,686.7 L280.3,686.7 L282.2,686.7 L284.1,686.6 L286.0,686.5 L288.0,686.5 L290.0,686.5 L292.4,686.5 L294.8,686.5 L297.3,686.5 L299.9,686.6 L302.4,686.6 L305.0,686.7 L307.5,686.8 L310.0,687.0 L312.4,687.3 L314.8,687.7 L317.1,688.2 L319.5,688.7 L321.9,689.2 L324.2,689.6 L326.6,689.9 L329.0,690.0 L331.5,689.9 L334.0,689.4 L336.6,688.9 L339.1,688.3 L341.7,687.7 L344.2,687.2 L346.6,686.9 L349.0,687.0 L351.1,687.3 L353.2,687.8 L355.2,688.5 L357.2,689.3 L359.2,690.2 L361.1,691.1 L363.1,692.1 L365.0,693.0 L366.9,694.0 L368.9,695.2 L370.8,696.4 L372.7,697.7 L374.5,698.9 L376.4,700.1 L378.2,701.1 L380.0,702.0 L381.4,702.6 L382.9,703.1 L384.3,703.6 L385.7,704.0 L387.0,704.4 L388.4,704.7 L389.8,704.9 L391.2,705.0 L392.6,705.0 L394.0,704.9 L395.5,704.7 L396.9,704.5 L398.3,704.2 L399.7,703.9 L401.0,703.7 L402.3,703.5 L403.3,703.3 L404.3,703.2 L405.3,703.0 L406.2,702.8 L407.1,702.6 L408.0,702.6 L408.9,702.6 L409.8,702.7 L410.6,702.9 L411.5,703.2 L412.2,703.6 L413.0,704.1 L413.8,704.6 L414.5,705.2 L415.3,705.8 L416.0,706.5 L417.0,707.6 L418.0,709.0 L418.9,710.5 L419.9,712.2 L420.8,713.8 L421.6,715.4 L422.4,716.8 L423.0,718.0 L423.3,718.6 L423.6,719.1 L423.8,719.5 L424.0,720.0 L424.2,720.4 L424.5,720.9 L424.7,721.4 L425.0,722.0 L425.7,723.4 L426.4,725.1 L427.3,726.9 L428.2,728.9 L429.1,730.9 L430.1,733.0 L431.1,735.0 L432.0,737.0 L433.0,739.0 L434.0,741.0 L435.0,743.0 L436.1,745.0 L437.1,747.0 L438.1,749.1 L439.1,751.2 L440.0,753.4 L440.9,755.8 L441.7,758.4 L442.4,760.9 L443.1,763.5 L443.9,766.2 L444.6,768.8 L445.4,771.4 L446.2,774.0 L447.1,776.6 L448.1,779.2 L449.1,781.8 L450.2,784.4 L451.2,787.0 L452.3,789.5 L453.4,792.1 L454.4,794.7 L455.4,797.3 L456.5,799.9 L457.5,802.5 L458.6,805.0 L459.7,807.6 L460.7,810.2 L461.7,812.8 L462.7,815.4 L463.7,818.0 L464.6,820.6 L465.5,823.2 L466.4,825.8 L467.3,828.3 L468.2,830.9 L469.1,833.5 L470.0,836.0 L470.9,838.4 L471.7,840.8 L472.6,843.2 L473.4,845.6 L474.3,848.0 L475.2,850.4 L476.2,852.7 L477.2,855.0 L478.4,857.4 L479.6,859.8 L481.0,862.2 L482.4,864.6 L483.8,866.9 L485.1,869.1 L486.3,871.1 L487.3,872.9 L487.8,873.9 L488.3,874.9 L488.8,875.8 L489.2,876.6 L489.7,877.4 L490.1,878.2 L490.5,878.9 L491.0,879.5 L491.4,880.0 L491.7,880.4 L492.1,880.9 L492.5,881.3 L492.9,881.7 L493.3,881.9 L493.7,882.1 L494.1,882.2 L494.5,882.1 L495.0,882.0 L495.4,881.7 L495.8,881.3 L496.3,880.9 L496.7,880.4 L497.1,880.0 L497.5,879.5 L497.9,879.0 L498.3,878.4 L498.7,877.8 L499.0,877.2 L499.3,876.5 L499.7,875.8 L500.0,875.0 L500.3,874.1 L500.8,872.4 L501.4,870.4 L501.9,868.2 L502.3,865.8 L502.8,863.3 L503.2,860.8 L503.6,858.1 L504.0,855.5 L504.5,852.0 L504.9,848.3 L505.3,844.5 L505.7,840.5 L506.1,836.5 L506.4,832.4 L506.8,828.4 L507.1,824.5 L507.4,820.6 L507.8,816.8 L508.1,812.9 L508.4,809.0 L508.7,805.1 L509.0,801.3 L509.3,797.3 L509.6,793.4 L509.9,789.2 L510.3,785.0 L510.6,780.7 L511.0,776.3 L511.3,772.1 L511.7,767.9 L512.1,763.8 L512.5,760.0 L512.8,757.0 L513.2,754.1 L513.6,751.3 L514.0,748.6 L514.4,745.9 L514.7,743.3 L515.1,740.6 L515.5,738.0 L515.8,735.6 L516.2,733.4 L516.5,731.1 L516.9,728.9 L517.2,726.7 L517.6,724.4 L517.9,721.9 L518.2,719.2 L518.7,715.0 L519.1,710.4 L519.5,705.6 L520.0,700.5 L520.4,695.4 L520.8,690.2 L521.2,685.0 L521.5,680.0 L521.8,675.0 L522.1,670.0 L522.4,665.0 L522.6,660.0 L522.8,655.0 L523.1,650.0 L523.3,645.0 L523.5,640.0 L523.7,635.0 L523.9,630.1 L524.1,625.2 L524.3,620.3 L524.5,615.4 L524.7,610.3 L524.8,605.2 L525.0,600.0 L525.2,594.0 L525.3,587.9 L525.5,581.8 L525.6,575.5 L525.7,569.1 L525.9,562.6 L526.0,555.9 L526.2,549.0 L526.4,540.3 L526.7,531.2 L526.9,521.8 L527.2,512.3 L527.4,502.6 L527.7,492.9 L528.0,483.4 L528.3,474.0 L528.6,465.0 L529.0,455.9 L529.3,446.8 L529.7,437.7 L530.0,428.8 L530.4,420.0 L530.8,411.4 L531.1,403.0 L531.4,396.0 L531.6,389.2 L531.9,382.6 L532.2,376.0 L532.4,369.5 L532.7,363.1 L533.0,356.6 L533.3,350.0 L533.6,343.4 L534.0,336.7 L534.4,330.1 L534.8,323.5 L535.2,316.9 L535.6,310.2 L536.0,303.6 L536.4,297.0 L536.8,290.4 L537.3,283.7 L537.7,277.1 L538.2,270.5 L538.6,263.9 L539.1,257.3 L539.5,250.6 L539.9,244.0 L540.3,237.3 L540.6,230.6 L540.9,223.8 L541.2,217.0 L541.5,210.3 L541.8,203.7 L542.2,197.3 L542.5,191.0 L542.8,185.8 L543.1,180.7 L543.4,175.7 L543.7,170.8 L544.1,165.9 L544.4,161.1 L544.8,156.2 L545.2,151.3 L545.6,146.2 L545.9,140.9 L546.3,135.6 L546.7,130.3 L547.1,125.1 L547.7,120.2 L548.4,115.6 L549.2,111.5 L549.9,108.8 L550.6,106.0 L551.4,103.3 L552.3,100.7 L553.2,98.4 L554.1,96.6 L555.0,95.4 L555.8,95.0 L556.6,95.4 L557.5,96.6 L558.4,98.4 L559.3,100.7 L560.2,103.3 L561.0,106.0 L561.7,108.8 L562.4,111.5 L563.2,115.6 L563.9,120.2 L564.5,125.1 L564.9,130.3 L565.3,135.6 L565.7,140.9 L566.0,146.2 L566.4,151.3 L566.8,156.2 L567.2,161.1 L567.5,165.9 L567.8,170.8 L568.1,175.7 L568.4,180.7 L568.7,185.8 L569.0,191.0 L569.4,197.3 L569.7,203.7 L570.0,210.3 L570.4,217.0 L570.7,223.8 L571.0,230.6 L571.4,237.3 L571.7,244.0 L572.0,250.6 L572.4,257.2 L572.7,263.9 L573.0,270.5 L573.3,277.1 L573.6,283.8 L574.0,290.4 L574.3,297.0 L574.6,303.6 L575.0,310.3 L575.3,316.9 L575.6,323.5 L576.0,330.1 L576.3,336.7 L576.7,343.4 L577.0,350.0 L577.3,356.6 L577.7,363.1 L578.0,369.5 L578.3,376.0 L578.7,382.5 L579.0,389.2 L579.3,396.0 L579.6,403.0 L579.9,411.4 L580.2,420.1 L580.5,428.9 L580.8,437.9 L581.1,447.1 L581.4,456.2 L581.7,465.3 L582.0,474.4 L582.4,483.6 L582.7,492.9 L583.1,502.2 L583.5,511.5 L584.0,520.8 L584.4,530.1 L584.8,539.4 L585.2,548.7 L585.6,558.0 L586.0,567.3 L586.4,576.6 L586.9,585.9 L587.3,595.1 L587.7,604.4 L588.1,613.7 L588.5,623.0 L588.9,632.3 L589.2,641.5 L589.6,650.8 L589.9,660.0 L590.3,669.3 L590.6,678.5 L591.1,687.8 L591.5,697.0 L592.0,706.2 L592.5,715.3 L593.0,724.5 L593.5,733.6 L594.1,742.8 L594.7,751.9 L595.3,761.0 L596.0,770.0 L596.7,778.8 L597.5,787.6 L598.3,796.5 L599.1,805.2 L599.9,814.0 L600.7,822.6 L601.5,831.2 L602.3,839.6 L603.0,847.4 L603.7,855.4 L604.4,863.3 L605.1,871.2 L605.7,878.8 L606.4,886.0 L607.0,892.9 L607.5,899.1 L607.8,902.9 L608.1,906.4 L608.3,909.8 L608.5,913.0 L608.8,916.1 L609.0,919.1 L609.4,922.0 L609.8,925.0 L610.2,927.6 L610.7,930.2 L611.2,932.8 L611.8,935.3 L612.3,937.7 L612.9,940.0 L613.6,942.0 L614.2,943.8 L614.6,944.7 L614.9,945.6 L615.3,946.4 L615.7,947.1 L616.1,947.8 L616.5,948.4 L617.0,949.0 L617.5,949.5 L618.0,949.9 L618.5,950.3 L619.0,950.6 L619.5,950.9 L620.1,951.2 L620.6,951.4 L621.2,951.5 L621.7,951.5 L622.2,951.4 L622.7,951.3 L623.2,951.1 L623.7,950.9 L624.1,950.6 L624.6,950.2 L625.1,949.9 L625.5,949.5 L626.0,949.0 L626.5,948.4 L627.0,947.8 L627.4,947.1 L627.8,946.3 L628.3,945.5 L628.7,944.7 L629.1,943.8 L629.7,942.3 L630.3,940.7 L630.9,939.0 L631.4,937.2 L632.0,935.2 L632.5,933.2 L633.1,931.1 L633.6,928.9 L634.4,925.7 L635.1,922.4 L635.8,918.8 L636.5,915.1 L637.3,911.3 L638.0,907.3 L638.7,903.3 L639.5,899.1 L640.5,893.6 L641.5,887.7 L642.6,881.6 L643.6,875.3 L644.7,869.0 L645.8,862.6 L646.9,856.2 L648.0,850.0 L649.1,843.6 L650.3,836.9 L651.4,830.2 L652.6,823.4 L653.8,816.9 L655.0,810.7 L656.2,805.0 L657.4,800.0 L658.1,797.3 L658.9,795.0 L659.6,792.8 L660.4,790.8 L661.2,788.8 L661.9,786.7 L662.7,784.5 L663.4,782.0 L664.4,778.2 L665.3,774.0 L666.2,769.7 L667.1,765.2 L668.0,760.5 L669.0,755.8 L670.1,751.1 L671.3,746.4 L672.8,741.1 L674.4,735.8 L676.0,730.4 L677.8,724.9 L679.6,719.4 L681.5,713.8 L683.3,708.3 L685.2,702.9 L687.1,697.3 L689.0,691.5 L690.9,685.7 L692.9,679.9 L694.9,674.3 L696.9,668.9 L698.8,663.9 L700.8,659.5 L702.1,656.8 L703.3,654.1 L704.5,651.6 L705.7,649.2 L707.0,647.1 L708.3,645.1 L709.7,643.4 L711.2,642.1 L712.4,641.3 L713.6,640.7 L715.0,640.1 L716.3,639.8 L717.6,639.5 L719.0,639.4 L720.4,639.4 L721.7,639.5 L723.2,639.8 L724.8,640.4 L726.4,641.2 L728.1,642.1 L729.6,643.1 L731.1,644.2 L732.5,645.4 L733.8,646.5 L734.8,647.6 L735.8,648.7 L736.6,650.0 L737.4,651.2 L738.2,652.5 L738.9,653.9 L739.7,655.2 L740.5,656.5 L741.4,657.9 L742.3,659.3 L743.1,660.7 L744.0,662.2 L744.9,663.6 L745.7,665.1 L746.6,666.5 L747.5,668.0 L748.4,669.5 L749.3,670.9 L750.2,672.4 L751.2,673.9 L752.1,675.3 L753.0,676.9 L753.9,678.4 L754.8,680.0 L755.8,681.9 L756.8,683.9 L757.8,686.0 L758.7,688.2 L759.7,690.3 L760.7,692.3 L761.8,694.2 L762.8,696.0 L763.7,697.3 L764.5,698.6 L765.4,699.8 L766.2,700.9 L767.1,702.0 L768.0,703.1 L769.0,704.1 L770.0,705.0 L771.0,705.9 L772.1,706.6 L773.2,707.4 L774.3,708.1 L775.4,708.8 L776.6,709.4 L777.8,710.0 L779.0,710.5 L780.3,711.0 L781.6,711.5 L782.9,711.9 L784.2,712.2 L785.6,712.6 L786.9,712.9 L788.3,713.2 L789.6,713.5 L790.9,713.8 L792.2,714.0 L793.5,714.2 L794.7,714.4 L796.0,714.6 L797.3,714.8 L798.7,715.1 L800.0,715.5 L801.6,716.1 L803.3,716.9 L804.9,717.8 L806.6,718.7 L808.3,719.6 L810.0,720.5 L811.7,721.3 L813.4,722.0 L815.0,722.6 L816.5,723.1 L818.1,723.7 L819.7,724.1 L821.2,724.5 L822.8,724.8 L824.4,724.8 L826.0,724.7 L827.9,724.2 L829.8,723.4 L831.7,722.3 L833.6,721.0 L835.5,719.7 L837.4,718.3 L839.3,717.0 L841.3,715.8 L843.4,714.6 L845.5,713.5 L847.6,712.3 L849.8,711.1 L851.9,710.0 L854.0,708.9 L856.0,707.8 L858.0,706.9 L859.5,706.2 L860.9,705.5 L862.3,704.8 L863.7,704.2 L865.1,703.6 L866.4,703.1 L867.8,702.7 L869.2,702.4 L870.6,702.2 L872.0,702.2 L873.3,702.2 L874.7,702.3 L876.1,702.5 L877.5,702.5 L878.9,702.5 L880.3,702.4 L881.7,702.2 L883.1,701.8 L884.5,701.5 L885.9,701.0 L887.3,700.6 L888.7,700.1 L890.1,699.5 L891.5,699.0 L892.9,698.4 L894.3,697.7 L895.7,697.0 L897.0,696.2 L898.4,695.5 L899.8,694.8 L901.2,694.1 L902.6,693.5 L904.0,693.0 L905.4,692.5 L906.8,692.1 L908.2,691.7 L909.6,691.4 L911.0,691.1 L912.4,690.8 L913.8,690.5 L915.2,690.3 L916.5,690.1 L917.9,689.9 L919.3,689.8 L920.7,689.7 L922.1,689.6 L923.5,689.5 L925.0,689.5 L926.8,689.5 L928.6,689.5 L930.5,689.6 L932.5,689.7 L934.4,689.9 L936.3,690.0 L938.2,690.2 L940.0,690.5 L941.6,690.8 L943.1,691.1 L944.6,691.5 L946.0,691.9 L947.5,692.3 L949.0,692.7 L950.6,693.1 L952.3,693.5 L954.8,694.0 L957.5,694.5 L960.3,695.0 L963.3,695.5 L966.2,696.1 L969.1,696.6 L971.9,697.3 L974.6,698.0 L976.8,698.7 L979.0,699.6 L981.1,700.5 L983.1,701.5 L985.1,702.4 L987.2,703.3 L989.2,704.1 L991.3,704.7 L993.4,705.2 L995.4,705.6 L997.5,706.0 L999.6,706.3 L1001.7,706.5 L1003.8,706.7 L1005.9,706.8 L1008.0,706.9 L1010.1,706.9 L1012.3,706.7 L1014.5,706.5 L1016.6,706.2 L1018.8,706.0 L1020.9,705.8 L1022.9,705.7 L1024.8,705.8 L1026.3,706.0 L1027.8,706.4 L1029.1,706.8 L1030.5,707.2 L1031.8,707.7 L1033.2,708.2 L1034.5,708.7 L1035.9,709.1 L1037.3,709.6 L1038.8,710.1 L1040.2,710.6 L1041.7,711.2 L1043.1,711.7 L1044.5,712.1 L1045.8,712.4 L1047.1,712.5 L1048.1,712.5 L1049.0,712.5 L1049.9,712.5 L1050.8,712.3 L1051.6,712.1 L1052.5,711.9 L1053.2,711.5 L1054.0,711.0 L1054.9,710.1 L1055.8,709.0 L1056.6,707.7 L1057.3,706.3 L1058.0,704.8 L1058.7,703.2 L1059.3,701.6 L1060.0,700.0 L1060.8,698.2 L1061.6,696.3 L1062.3,694.3 L1063.1,692.3 L1063.8,690.3 L1064.5,688.2 L1065.1,686.1 L1065.8,684.0 L1066.5,681.8 L1067.1,679.5 L1067.7,677.3 L1068.3,675.0 L1068.8,672.7 L1069.4,670.3 L1069.9,667.7 L1070.5,665.0 L1071.3,660.9 L1072.0,656.6 L1072.7,652.0 L1073.4,647.2 L1074.1,642.3 L1074.8,637.3 L1075.7,632.4 L1076.6,627.5 L1077.7,622.2 L1078.9,616.8 L1080.2,611.3 L1081.6,605.8 L1083.0,600.4 L1084.4,595.0 L1085.9,589.6 L1087.3,584.5 L1088.6,579.8 L1089.8,575.1 L1091.1,570.3 L1092.4,565.6 L1093.7,561.1 L1095.1,557.0 L1096.5,553.3 L1098.1,550.1 L1099.1,548.4 L1100.1,546.6 L1101.2,545.0 L1102.2,543.5 L1103.3,542.3 L1104.4,541.3 L1105.6,540.6 L1106.7,540.4 L1108.0,540.7 L1109.4,541.5 L1110.8,542.7 L1112.2,544.3 L1113.5,546.1 L1114.9,548.1 L1116.2,550.2 L1117.4,552.3 L1119.1,555.8 L1120.6,559.7 L1122.0,564.1 L1123.3,568.8 L1124.6,573.7 L1125.8,578.7 L1127.0,583.8 L1128.2,588.8 L1129.6,594.6 L1131.0,600.6 L1132.4,606.7 L1133.7,612.9 L1135.0,619.2 L1136.3,625.6 L1137.6,632.0 L1138.9,638.3 L1140.3,644.9 L1141.6,651.7 L1142.9,658.5 L1144.2,665.4 L1145.6,672.2 L1146.9,679.0 L1148.3,685.6 L1149.7,692.0 L1151.0,697.7 L1152.2,703.4 L1153.5,709.1 L1154.8,714.7 L1156.1,720.1 L1157.4,725.3 L1158.9,730.3 L1160.4,735.0 L1161.6,738.5 L1162.9,742.1 L1164.2,745.5 L1165.5,748.9 L1166.9,751.9 L1168.3,754.7 L1169.7,756.9 L1171.2,758.7 L1172.0,759.4 L1172.7,760.0 L1173.5,760.5 L1174.3,760.9 L1175.1,761.2 L1175.9,761.4 L1176.7,761.5 L1177.6,761.5 L1178.7,761.3 L1179.9,760.9 L1181.2,760.4 L1182.4,759.6 L1183.6,758.8 L1184.8,757.9 L1186.0,756.8 L1187.0,755.8 L1188.1,754.5 L1189.0,752.9 L1189.9,751.3 L1190.7,749.5 L1191.5,747.7 L1192.2,745.8 L1193.0,743.8 L1193.9,741.9 L1195.0,739.5 L1196.2,737.0 L1197.3,734.4 L1198.5,731.8 L1199.7,729.1 L1200.9,726.4 L1202.0,723.7 L1203.2,721.1 L1204.3,718.4 L1205.4,715.7 L1206.5,712.9 L1207.6,710.2 L1208.8,707.5 L1209.9,704.9 L1211.1,702.5 L1212.4,700.2 L1213.5,698.5 L1214.6,696.9 L1215.7,695.4 L1216.8,693.9 L1218.0,692.5 L1219.2,691.2 L1220.4,689.9 L1221.7,688.7 L1222.9,687.6 L1224.1,686.6 L1225.4,685.6 L1226.7,684.7 L1228.0,683.8 L1229.3,683.0 L1230.7,682.3 L1232.1,681.7 L1233.5,681.2 L1234.8,680.8 L1236.2,680.4 L1237.7,680.1 L1239.1,679.9 L1240.6,679.7 L1242.1,679.6 L1243.7,679.4 L1245.7,679.2 L1247.8,679.1 L1250.0,679.1 L1252.2,679.1 L1254.4,679.1 L1256.7,679.2 L1258.9,679.3 L1261.1,679.4 L1263.3,679.6 L1265.5,679.8 L1267.8,680.0 L1270.0,680.3 L1272.3,680.6 L1274.4,680.9 L1276.5,681.3 L1278.5,681.7 L1280.1,682.1 L1281.6,682.4 L1283.1,682.9 L1284.5,683.3 L1285.9,683.7 L1287.3,684.2 L1288.7,684.6 L1290.0,685.0 L1291.1,685.3 L1292.2,685.6 L1293.3,685.9 L1294.3,686.2 L1295.4,686.5 L1296.4,686.8 L1297.5,687.1 L1298.7,687.5 L1300.2,688.0 L1301.8,688.6 L1303.4,689.2 L1305.1,689.9 L1306.8,690.5 L1308.4,691.1 L1310.1,691.5 L1311.8,691.8 L1313.4,691.9 L1315.0,691.8 L1316.7,691.7 L1318.3,691.4 L1319.9,691.2 L1321.6,691.0 L1323.2,690.9 L1324.8,691.0 L1326.5,691.3 L1328.1,691.7 L1329.8,692.1 L1331.4,692.7 L1333.1,693.3 L1334.7,693.9 L1336.4,694.5 L1338.0,695.0 L1339.6,695.5 L1341.3,696.0 L1342.9,696.4 L1344.5,696.9 L1346.1,697.4 L1347.7,697.9 L1349.4,698.3 L1351.0,698.8 L1352.6,699.3 L1354.2,699.7 L1355.9,700.2 L1357.5,700.6 L1359.1,701.1 L1360.7,701.5 L1362.4,701.9 L1364.0,702.3 L1365.6,702.7 L1367.3,703.1 L1368.9,703.6 L1370.5,704.0 L1372.2,704.3 L1373.8,704.6 L1375.5,704.8 L1377.1,704.9 L1378.7,704.8 L1380.4,704.6 L1382.0,704.3 L1383.7,704.0 L1385.3,703.6 L1386.9,703.1 L1388.6,702.7 L1390.2,702.3 L1391.9,701.9 L1393.5,701.4 L1395.2,700.9 L1396.9,700.4 L1398.6,699.9 L1400.2,699.4 L1401.7,699.1 L1403.2,698.8 L1404.3,698.7 L1405.3,698.6 L1406.3,698.6 L1407.2,698.7 L1408.2,698.7 L1409.1,698.7 L1410.0,698.8 L1411.0,698.8" stroke="#fbc01c" stroke-opacity="0.75"/>
<path d="M218.0,677.3 L219.4,677.2 L220.8,677.1 L222.2,676.9 L223.6,676.8 L224.9,676.7 L226.3,676.6 L227.7,676.6 L229.1,676.7 L230.5,676.8 L231.9,677.0 L233.3,677.3 L234.7,677.6 L236.1,677.9 L237.5,678.3 L238.9,678.6 L240.3,679.0 L241.7,679.4 L243.1,679.7 L244.5,680.1 L245.9,680.6 L247.2,681.0 L248.6,681.4 L250.0,681.9 L251.4,682.3 L252.8,682.8 L254.2,683.2 L255.6,683.7 L257.0,684.2 L258.4,684.6 L259.8,685.1 L261.2,685.7 L262.6,686.2 L264.0,686.8 L265.4,687.4 L266.8,688.1 L268.1,688.8 L269.5,689.5 L270.9,690.1 L272.3,690.7 L273.7,691.2 L275.1,691.6 L276.4,692.0 L277.8,692.3 L279.2,692.5 L280.6,692.8 L282.0,693.0 L283.5,693.2 L284.9,693.4 L286.5,693.6 L288.1,693.8 L289.8,693.9 L291.4,694.0 L293.1,694.1 L294.7,694.2 L296.4,694.4 L298.0,694.6 L299.5,694.8 L301.1,695.1 L302.6,695.4 L304.1,695.7 L305.6,696.0 L307.1,696.3 L308.6,696.7 L310.0,697.0 L311.3,697.3 L312.6,697.7 L313.8,698.0 L315.1,698.4 L316.3,698.7 L317.5,699.0 L318.8,699.3 L320.0,699.5 L321.2,699.7 L322.3,699.8 L323.5,699.9 L324.6,700.0 L325.8,700.0 L327.0,700.0 L328.1,699.9 L329.3,699.8 L330.6,699.6 L332.0,699.3 L333.4,698.9 L334.7,698.5 L336.1,698.0 L337.4,697.4 L338.7,696.7 L340.0,696.0 L341.3,695.0 L342.6,693.9 L343.9,692.7 L345.1,691.4 L346.3,690.0 L347.5,688.6 L348.8,687.3 L350.0,686.0 L351.2,684.7 L352.5,683.3 L353.7,681.9 L354.9,680.5 L356.1,679.2 L357.4,678.0 L358.7,676.9 L360.0,676.0 L361.2,675.4 L362.4,674.9 L363.7,674.5 L365.0,674.2 L366.3,673.9 L367.6,673.7 L368.9,673.5 L370.2,673.4 L371.4,673.3 L372.7,673.1 L373.9,673.1 L375.1,673.0 L376.3,673.1 L377.6,673.2 L378.8,673.4 L380.0,673.7 L381.4,674.3 L382.8,675.0 L384.2,676.0 L385.6,677.0 L387.0,678.1 L388.4,679.2 L389.8,680.2 L391.2,681.2 L392.6,682.1 L394.0,682.9 L395.4,683.8 L396.7,684.6 L398.1,685.4 L399.5,686.2 L400.9,687.1 L402.3,687.9 L403.7,688.7 L405.2,689.5 L406.6,690.3 L408.1,691.1 L409.5,692.0 L410.9,692.8 L412.2,693.7 L413.5,694.6 L414.6,695.5 L415.6,696.4 L416.6,697.3 L417.5,698.3 L418.4,699.3 L419.3,700.2 L420.1,701.1 L420.9,702.0 L421.5,702.6 L422.0,703.2 L422.5,703.7 L423.0,704.2 L423.4,704.8 L423.9,705.3 L424.4,705.9 L425.0,706.6 L425.9,707.6 L426.9,708.7 L427.9,709.9 L429.0,711.2 L430.1,712.4 L431.2,713.8 L432.3,715.1 L433.3,716.5 L434.4,718.1 L435.4,719.8 L436.5,721.6 L437.5,723.4 L438.5,725.2 L439.5,727.0 L440.5,728.8 L441.5,730.6 L442.5,732.4 L443.6,734.2 L444.6,736.0 L445.6,737.8 L446.6,739.5 L447.7,741.3 L448.7,743.0 L449.8,744.7 L450.8,746.2 L451.8,747.7 L452.8,749.2 L453.9,750.7 L454.9,752.1 L456.0,753.5 L457.0,754.9 L458.1,756.2 L459.1,757.4 L460.1,758.5 L461.1,759.6 L462.2,760.6 L463.2,761.6 L464.3,762.6 L465.3,763.6 L466.4,764.5 L467.4,765.3 L468.4,766.1 L469.4,766.9 L470.4,767.6 L471.5,768.3 L472.5,769.0 L473.5,769.7 L474.6,770.3 L475.6,770.9 L476.7,771.4 L477.7,771.9 L478.8,772.4 L479.8,772.9 L480.9,773.3 L481.9,773.7 L482.9,774.0 L483.8,774.2 L484.6,774.5 L485.4,774.7 L486.3,774.9 L487.1,775.0 L487.9,775.0 L488.7,775.0 L489.5,774.9 L490.3,774.7 L491.1,774.4 L491.8,774.0 L492.6,773.5 L493.3,773.0 L494.0,772.4 L494.7,771.8 L495.3,771.1 L496.0,770.2 L496.6,769.3 L497.1,768.2 L497.6,767.1 L498.1,765.9 L498.5,764.7 L499.0,763.4 L499.4,762.0 L500.0,759.9 L500.6,757.6 L501.1,755.1 L501.7,752.5 L502.1,749.8 L502.6,747.0 L503.1,744.2 L503.6,741.4 L504.2,738.0 L504.8,734.4 L505.3,730.7 L505.9,727.0 L506.4,723.2 L506.9,719.4 L507.5,715.7 L508.0,712.0 L508.5,708.6 L509.0,705.2 L509.5,701.9 L510.1,698.5 L510.6,695.2 L511.1,691.8 L511.5,688.4 L512.0,685.0 L512.5,681.3 L512.9,677.7 L513.4,674.0 L513.8,670.2 L514.2,666.5 L514.7,662.7 L515.1,658.9 L515.5,655.0 L516.0,650.7 L516.4,646.4 L516.8,642.0 L517.3,637.5 L517.7,633.0 L518.2,628.6 L518.6,624.3 L519.0,620.0 L519.4,616.2 L519.8,612.4 L520.2,608.7 L520.5,605.0 L520.9,601.3 L521.3,597.6 L521.6,593.8 L522.0,590.0 L522.4,585.8 L522.8,581.5 L523.2,577.2 L523.5,572.8 L523.9,568.4 L524.3,564.0 L524.6,559.5 L525.0,555.0 L525.4,550.1 L525.8,545.1 L526.1,540.1 L526.5,535.0 L526.9,529.9 L527.2,524.9 L527.6,519.9 L528.0,515.0 L528.4,510.5 L528.7,506.1 L529.1,501.7 L529.5,497.4 L529.8,493.0 L530.2,488.7 L530.6,484.4 L531.0,480.0 L531.4,475.6 L531.8,471.2 L532.3,466.9 L532.7,462.5 L533.2,458.1 L533.6,453.7 L534.1,449.4 L534.5,445.0 L534.9,440.6 L535.4,436.1 L535.8,431.6 L536.2,427.1 L536.7,422.7 L537.1,418.3 L537.6,414.1 L538.0,410.0 L538.4,406.7 L538.7,403.4 L539.1,400.3 L539.5,397.2 L539.9,394.1 L540.2,391.1 L540.6,388.0 L541.0,385.0 L541.4,382.1 L541.7,379.1 L542.0,376.1 L542.4,373.2 L542.7,370.3 L543.1,367.5 L543.5,364.7 L544.0,362.0 L544.4,359.7 L544.8,357.4 L545.2,355.1 L545.7,352.9 L546.1,350.8 L546.7,348.7 L547.3,346.8 L548.0,345.0 L548.6,343.6 L549.3,342.2 L550.0,340.8 L550.7,339.5 L551.5,338.4 L552.2,337.4 L553.0,336.8 L553.8,336.5 L554.5,336.6 L555.2,336.9 L556.0,337.5 L556.8,338.3 L557.5,339.1 L558.2,340.1 L558.9,341.0 L559.5,342.0 L560.2,343.3 L560.8,344.7 L561.3,346.2 L561.8,347.8 L562.3,349.5 L562.7,351.3 L563.1,353.1 L563.5,355.0 L564.1,357.7 L564.5,360.6 L565.0,363.7 L565.4,366.8 L565.8,370.1 L566.2,373.4 L566.6,376.7 L567.0,380.0 L567.4,383.6 L567.8,387.2 L568.2,390.9 L568.6,394.6 L568.9,398.3 L569.3,402.1 L569.6,406.0 L570.0,410.0 L570.4,414.7 L570.8,419.5 L571.2,424.4 L571.5,429.4 L571.9,434.4 L572.3,439.6 L572.6,444.7 L573.0,450.0 L573.4,456.0 L573.9,462.1 L574.3,468.4 L574.8,474.7 L575.2,481.1 L575.7,487.4 L576.1,493.7 L576.5,500.0 L576.9,506.1 L577.3,512.2 L577.7,518.3 L578.0,524.3 L578.4,530.4 L578.8,536.5 L579.1,542.6 L579.5,548.7 L579.9,555.1 L580.3,561.5 L580.7,568.0 L581.0,574.5 L581.4,581.0 L581.8,587.4 L582.2,593.7 L582.6,600.0 L583.0,605.8 L583.3,611.5 L583.7,617.2 L584.1,622.8 L584.4,628.4 L584.8,634.0 L585.2,639.5 L585.5,645.0 L585.8,650.2 L586.1,655.2 L586.4,660.1 L586.6,665.0 L586.9,670.0 L587.2,675.1 L587.6,680.4 L588.0,686.0 L588.6,693.4 L589.3,701.2 L590.0,709.4 L590.8,717.7 L591.6,726.1 L592.5,734.5 L593.4,742.6 L594.4,750.5 L595.3,757.6 L596.4,764.6 L597.4,771.6 L598.5,778.5 L599.6,785.3 L600.8,791.9 L601.9,798.2 L603.0,804.3 L603.9,808.9 L604.7,813.5 L605.6,817.8 L606.4,822.1 L607.3,826.2 L608.2,830.3 L609.1,834.2 L610.0,838.0 L610.8,841.3 L611.5,844.9 L612.3,848.5 L613.1,852.0 L613.9,855.1 L614.8,857.7 L615.7,859.6 L616.8,860.5 L617.4,860.6 L618.0,860.4 L618.7,860.1 L619.4,859.6 L620.1,859.0 L620.7,858.4 L621.4,857.7 L622.0,857.0 L622.8,856.0 L623.6,854.9 L624.3,853.6 L625.0,852.3 L625.7,850.8 L626.4,849.4 L627.1,847.9 L627.8,846.5 L628.6,844.9 L629.4,843.3 L630.2,841.7 L631.0,840.0 L631.8,838.3 L632.6,836.5 L633.4,834.7 L634.1,832.9 L634.9,830.8 L635.6,828.5 L636.3,826.3 L637.0,823.9 L637.7,821.6 L638.3,819.3 L639.0,816.9 L639.6,814.6 L640.2,812.3 L640.8,810.1 L641.4,807.8 L642.0,805.5 L642.5,803.2 L643.1,801.0 L643.6,798.7 L644.2,796.4 L644.8,794.1 L645.3,791.8 L645.9,789.5 L646.5,787.2 L647.1,784.9 L647.6,782.6 L648.2,780.4 L648.7,778.2 L649.2,776.2 L649.6,774.3 L650.1,772.4 L650.5,770.6 L651.0,768.7 L651.4,766.8 L651.9,764.8 L652.4,762.7 L653.0,760.0 L653.7,757.3 L654.4,754.5 L655.1,751.6 L655.8,748.7 L656.6,745.7 L657.4,742.6 L658.3,739.6 L659.4,736.0 L660.6,732.4 L661.9,728.6 L663.2,724.9 L664.6,721.1 L666.0,717.3 L667.3,713.5 L668.7,709.8 L670.0,706.1 L671.3,702.2 L672.6,698.3 L673.9,694.4 L675.3,690.7 L676.7,687.1 L678.1,683.9 L679.6,681.0 L680.7,679.3 L681.7,677.7 L682.8,676.2 L683.9,674.9 L685.1,673.6 L686.2,672.3 L687.4,671.2 L688.6,670.0 L689.7,669.0 L690.8,668.0 L692.0,667.0 L693.2,666.1 L694.3,665.3 L695.6,664.4 L696.8,663.7 L698.0,663.0 L699.2,662.4 L700.3,661.8 L701.5,661.2 L702.7,660.7 L703.9,660.2 L705.2,659.9 L706.5,659.6 L707.8,659.5 L709.4,659.5 L711.1,659.6 L712.9,659.8 L714.7,660.2 L716.5,660.7 L718.3,661.3 L720.0,662.1 L721.7,663.0 L723.8,664.5 L725.8,666.3 L727.8,668.3 L729.7,670.6 L731.6,673.0 L733.5,675.5 L735.4,677.9 L737.3,680.3 L739.3,682.8 L741.2,685.5 L743.1,688.2 L744.9,691.0 L746.8,693.7 L748.8,696.3 L750.8,698.9 L752.9,701.2 L754.9,703.2 L757.0,705.2 L759.2,707.1 L761.4,709.0 L763.6,710.7 L765.9,712.3 L768.1,713.8 L770.3,715.1 L772.1,716.1 L774.0,716.9 L775.9,717.7 L777.7,718.4 L779.6,719.0 L781.4,719.5 L783.2,720.0 L785.0,720.5 L786.5,720.9 L787.9,721.3 L789.4,721.6 L790.8,721.9 L792.2,722.1 L793.7,722.3 L795.1,722.4 L796.7,722.5 L798.7,722.5 L800.8,722.4 L802.9,722.3 L805.1,722.1 L807.3,721.8 L809.5,721.4 L811.5,720.9 L813.4,720.3 L815.0,719.7 L816.5,719.1 L817.9,718.4 L819.3,717.6 L820.7,716.7 L822.0,715.8 L823.3,714.7 L824.6,713.6 L826.1,712.0 L827.5,710.2 L828.9,708.3 L830.3,706.2 L831.6,704.1 L832.9,702.0 L834.3,699.9 L835.7,698.0 L837.1,696.2 L838.4,694.4 L839.8,692.6 L841.2,690.8 L842.5,689.1 L844.0,687.5 L845.4,686.0 L846.9,684.6 L848.2,683.5 L849.6,682.5 L850.9,681.6 L852.3,680.7 L853.7,679.9 L855.1,679.2 L856.6,678.5 L858.0,677.9 L859.4,677.4 L860.8,676.9 L862.2,676.5 L863.6,676.2 L865.0,676.0 L866.4,675.8 L867.8,675.7 L869.2,675.7 L870.6,675.8 L872.0,676.1 L873.4,676.5 L874.8,677.0 L876.1,677.5 L877.5,678.0 L878.9,678.5 L880.3,679.0 L881.7,679.4 L883.1,679.9 L884.5,680.4 L885.9,680.8 L887.3,681.3 L888.7,681.7 L890.1,682.1 L891.5,682.4 L892.9,682.7 L894.3,682.9 L895.6,683.1 L897.0,683.2 L898.4,683.3 L899.8,683.4 L901.2,683.5 L902.6,683.5 L904.0,683.5 L905.4,683.4 L906.8,683.3 L908.2,683.1 L909.6,683.0 L911.0,682.8 L912.4,682.6 L913.8,682.4 L915.2,682.2 L916.6,682.0 L918.0,681.8 L919.4,681.5 L920.8,681.3 L922.2,681.1 L923.6,680.9 L925.0,680.7 L926.4,680.6 L927.8,680.4 L929.1,680.3 L930.5,680.2 L931.9,680.1 L933.3,680.1 L934.6,680.1 L936.0,680.1 L937.3,680.2 L938.6,680.2 L939.9,680.3 L941.2,680.5 L942.5,680.6 L943.9,680.8 L945.3,681.0 L946.7,681.3 L948.6,681.7 L950.6,682.1 L952.7,682.7 L954.8,683.2 L957.0,683.8 L959.2,684.4 L961.3,685.1 L963.4,685.7 L965.5,686.4 L967.6,687.2 L969.7,688.0 L971.8,688.9 L973.9,689.6 L976.0,690.4 L978.1,690.9 L980.2,691.3 L982.3,691.5 L984.4,691.5 L986.4,691.5 L988.5,691.3 L990.6,691.1 L992.7,690.8 L994.8,690.5 L996.9,690.2 L999.0,689.9 L1001.1,689.5 L1003.2,689.0 L1005.2,688.5 L1007.3,688.0 L1009.4,687.5 L1011.5,687.1 L1013.6,686.8 L1015.7,686.5 L1017.9,686.3 L1020.1,686.1 L1022.2,685.9 L1024.4,685.8 L1026.4,685.7 L1028.4,685.7 L1030.3,685.7 L1031.6,685.8 L1032.9,685.8 L1034.1,685.9 L1035.3,686.0 L1036.5,686.2 L1037.6,686.4 L1038.8,686.7 L1040.0,687.0 L1041.3,687.5 L1042.7,688.1 L1044.0,688.8 L1045.4,689.6 L1046.7,690.3 L1048.1,691.0 L1049.4,691.6 L1050.8,692.0 L1052.2,692.3 L1053.6,692.4 L1055.0,692.6 L1056.4,692.6 L1057.8,692.6 L1059.2,692.5 L1060.4,692.3 L1061.5,692.0 L1062.2,691.8 L1062.8,691.5 L1063.4,691.2 L1063.9,690.8 L1064.4,690.5 L1064.9,690.0 L1065.5,689.5 L1066.0,689.0 L1066.8,688.1 L1067.6,687.1 L1068.4,686.0 L1069.1,684.8 L1069.9,683.5 L1070.7,682.1 L1071.5,680.6 L1072.3,679.1 L1073.6,676.5 L1074.9,673.6 L1076.2,670.4 L1077.5,667.0 L1078.8,663.6 L1080.2,660.1 L1081.6,656.6 L1083.0,653.3 L1084.5,649.8 L1086.1,646.0 L1087.7,642.3 L1089.4,638.5 L1091.0,634.8 L1092.7,631.4 L1094.3,628.2 L1095.9,625.4 L1096.9,623.7 L1097.9,622.2 L1098.8,620.7 L1099.7,619.3 L1100.7,618.0 L1101.7,616.9 L1102.8,615.9 L1104.0,615.0 L1105.1,614.3 L1106.4,613.7 L1107.6,613.2 L1108.9,612.8 L1110.3,612.5 L1111.6,612.3 L1112.9,612.3 L1114.2,612.5 L1115.7,612.9 L1117.2,613.6 L1118.8,614.5 L1120.3,615.5 L1121.8,616.8 L1123.3,618.1 L1124.7,619.6 L1126.0,621.1 L1127.6,623.4 L1129.1,625.9 L1130.5,628.7 L1131.9,631.7 L1133.1,634.9 L1134.3,638.1 L1135.6,641.4 L1136.8,644.7 L1138.2,648.7 L1139.6,652.8 L1140.9,657.1 L1142.2,661.5 L1143.4,665.9 L1144.7,670.4 L1146.1,674.8 L1147.5,679.1 L1149.0,683.5 L1150.5,687.9 L1152.1,692.4 L1153.6,696.9 L1155.3,701.3 L1156.9,705.6 L1158.6,709.6 L1160.4,713.5 L1161.9,716.6 L1163.5,719.6 L1165.1,722.5 L1166.7,725.4 L1168.4,728.1 L1170.0,730.6 L1171.7,732.9 L1173.3,735.0 L1174.4,736.3 L1175.5,737.5 L1176.6,738.6 L1177.6,739.7 L1178.7,740.6 L1179.8,741.5 L1180.9,742.3 L1182.0,743.0 L1182.9,743.5 L1183.8,744.0 L1184.7,744.4 L1185.6,744.8 L1186.5,745.1 L1187.4,745.3 L1188.3,745.4 L1189.3,745.4 L1190.5,745.3 L1191.8,744.9 L1193.2,744.5 L1194.5,743.9 L1195.9,743.2 L1197.2,742.5 L1198.5,741.6 L1199.7,740.8 L1201.0,739.8 L1202.2,738.6 L1203.4,737.4 L1204.5,736.1 L1205.7,734.7 L1206.8,733.3 L1207.9,731.8 L1209.0,730.4 L1210.2,728.8 L1211.4,727.2 L1212.5,725.5 L1213.7,723.8 L1214.8,722.0 L1215.9,720.2 L1217.1,718.4 L1218.2,716.5 L1219.5,714.3 L1220.8,711.9 L1222.1,709.5 L1223.4,707.1 L1224.7,704.6 L1226.0,702.3 L1227.4,700.0 L1228.7,697.9 L1229.8,696.2 L1230.9,694.6 L1232.0,693.0 L1233.1,691.5 L1234.2,690.1 L1235.4,688.7 L1236.6,687.5 L1237.9,686.3 L1239.2,685.3 L1240.6,684.3 L1242.0,683.3 L1243.5,682.4 L1245.0,681.7 L1246.5,681.1 L1248.0,680.7 L1249.5,680.5 L1250.9,680.6 L1252.4,680.9 L1253.9,681.4 L1255.3,682.1 L1256.8,682.8 L1258.2,683.6 L1259.7,684.5 L1261.1,685.2 L1262.6,686.0 L1264.0,686.9 L1265.4,687.8 L1266.9,688.8 L1268.3,689.8 L1269.8,690.6 L1271.2,691.4 L1272.7,692.1 L1274.1,692.6 L1275.6,693.1 L1277.1,693.6 L1278.6,693.9 L1280.1,694.2 L1281.6,694.4 L1283.0,694.5 L1284.3,694.4 L1285.4,694.2 L1286.4,694.0 L1287.4,693.6 L1288.3,693.2 L1289.2,692.7 L1290.2,692.2 L1291.1,691.6 L1292.0,691.0 L1293.0,690.3 L1294.0,689.5 L1294.9,688.6 L1295.9,687.6 L1296.9,686.7 L1297.8,685.7 L1298.9,684.8 L1300.0,684.0 L1301.3,683.1 L1302.7,682.1 L1304.2,681.1 L1305.7,680.2 L1307.3,679.4 L1308.8,678.7 L1310.3,678.2 L1311.8,677.9 L1313.1,677.9 L1314.4,678.0 L1315.7,678.2 L1317.0,678.6 L1318.2,679.1 L1319.5,679.7 L1320.8,680.3 L1322.0,681.0 L1323.5,682.0 L1324.9,683.2 L1326.3,684.6 L1327.8,686.1 L1329.2,687.6 L1330.6,689.1 L1332.1,690.5 L1333.6,691.8 L1335.2,693.0 L1336.8,694.1 L1338.4,695.3 L1340.1,696.4 L1341.8,697.4 L1343.4,698.3 L1345.0,699.1 L1346.6,699.7 L1347.7,700.1 L1348.9,700.3 L1350.0,700.6 L1351.0,700.7 L1352.1,700.8 L1353.2,700.8 L1354.2,700.7 L1355.3,700.5 L1356.4,700.2 L1357.5,699.7 L1358.6,699.0 L1359.7,698.3 L1360.8,697.6 L1361.9,696.8 L1362.9,696.0 L1364.0,695.3 L1365.1,694.6 L1366.2,693.7 L1367.3,692.9 L1368.4,692.1 L1369.5,691.3 L1370.6,690.5 L1371.7,689.8 L1372.8,689.2 L1373.9,688.7 L1374.9,688.2 L1376.0,687.8 L1377.1,687.4 L1378.2,687.1 L1379.3,686.8 L1380.4,686.7 L1381.5,686.6 L1382.6,686.7 L1383.7,686.8 L1384.8,687.1 L1385.9,687.4 L1387.0,687.8 L1388.1,688.3 L1389.1,688.7 L1390.2,689.2 L1391.3,689.7 L1392.4,690.4 L1393.4,691.1 L1394.4,691.8 L1395.5,692.5 L1396.6,693.2 L1397.7,693.9 L1398.9,694.4 L1400.3,694.9 L1401.7,695.3 L1403.2,695.6 L1404.8,695.9 L1406.3,696.2 L1407.9,696.4 L1409.5,696.7 L1411.0,697.0" stroke="#ff781c" stroke-opacity="0.75"/>
<path d="M218.0,691.8 L219.4,692.0 L220.8,692.3 L222.2,692.5 L223.6,692.7 L225.0,693.0 L226.4,693.2 L227.8,693.3 L229.1,693.4 L230.2,693.4 L231.3,693.5 L232.3,693.5 L233.4,693.5 L234.4,693.4 L235.5,693.3 L236.5,693.1 L237.5,692.9 L238.6,692.6 L239.6,692.2 L240.7,691.8 L241.8,691.3 L242.8,690.7 L243.8,690.2 L244.9,689.6 L245.9,689.0 L247.0,688.4 L248.0,687.7 L249.0,687.0 L250.1,686.2 L251.1,685.5 L252.1,684.8 L253.1,684.1 L254.2,683.4 L255.2,682.8 L256.3,682.2 L257.4,681.5 L258.5,680.9 L259.5,680.4 L260.6,679.8 L261.6,679.4 L262.6,679.0 L263.3,678.7 L264.0,678.5 L264.7,678.3 L265.4,678.1 L266.1,677.9 L266.7,677.8 L267.5,677.8 L268.2,677.8 L269.2,677.9 L270.2,678.1 L271.2,678.4 L272.3,678.8 L273.4,679.2 L274.4,679.6 L275.5,680.1 L276.5,680.6 L277.6,681.2 L278.6,681.8 L279.7,682.4 L280.8,683.2 L281.8,683.9 L282.8,684.6 L283.9,685.4 L284.9,686.2 L286.0,687.1 L287.0,688.0 L288.1,688.9 L289.1,689.9 L290.1,690.9 L291.1,691.8 L292.2,692.7 L293.2,693.4 L294.0,694.0 L294.9,694.5 L295.7,695.0 L296.5,695.5 L297.3,695.9 L298.2,696.3 L299.1,696.6 L300.0,696.8 L301.1,697.0 L302.3,697.0 L303.5,697.0 L304.8,696.9 L306.1,696.8 L307.3,696.6 L308.6,696.3 L309.8,696.0 L311.1,695.6 L312.3,695.1 L313.6,694.4 L314.8,693.8 L316.1,693.1 L317.3,692.4 L318.6,691.7 L320.0,691.0 L321.6,690.2 L323.4,689.4 L325.2,688.6 L327.0,687.8 L328.8,687.0 L330.6,686.3 L332.3,685.6 L334.0,685.1 L335.3,684.8 L336.6,684.4 L337.8,684.2 L339.0,683.9 L340.2,683.8 L341.5,683.7 L342.7,683.7 L344.0,683.7 L345.5,683.9 L346.9,684.1 L348.4,684.5 L349.9,684.9 L351.5,685.4 L353.0,685.9 L354.5,686.5 L356.0,687.0 L357.5,687.6 L359.1,688.2 L360.6,689.0 L362.1,689.7 L363.7,690.4 L365.2,691.1 L366.8,691.6 L368.3,692.0 L369.8,692.3 L371.2,692.4 L372.7,692.5 L374.2,692.6 L375.6,692.6 L377.1,692.5 L378.6,692.4 L380.0,692.3 L381.4,692.1 L382.9,691.8 L384.3,691.5 L385.8,691.1 L387.2,690.8 L388.6,690.5 L389.9,690.2 L391.2,690.1 L392.2,690.1 L393.2,690.1 L394.1,690.1 L395.0,690.1 L395.9,690.2 L396.8,690.4 L397.7,690.6 L398.6,690.8 L399.6,691.1 L400.5,691.5 L401.4,691.9 L402.4,692.3 L403.3,692.8 L404.2,693.4 L405.1,694.0 L406.0,694.6 L407.0,695.4 L408.0,696.2 L408.9,697.0 L409.9,697.9 L410.8,698.9 L411.7,699.9 L412.6,700.9 L413.5,702.0 L414.5,703.3 L415.5,704.7 L416.4,706.2 L417.4,707.8 L418.3,709.3 L419.2,710.7 L420.1,712.1 L420.9,713.2 L421.4,713.8 L422.0,714.4 L422.5,714.8 L423.0,715.2 L423.4,715.7 L423.9,716.2 L424.5,716.7 L425.0,717.4 L426.0,718.8 L427.0,720.5 L428.0,722.3 L429.0,724.3 L430.1,726.3 L431.2,728.4 L432.2,730.4 L433.3,732.3 L434.3,734.1 L435.3,735.9 L436.3,737.7 L437.4,739.4 L438.4,741.2 L439.4,742.9 L440.4,744.6 L441.5,746.3 L442.5,747.8 L443.5,749.3 L444.6,750.8 L445.6,752.3 L446.6,753.7 L447.7,755.1 L448.7,756.5 L449.8,757.9 L450.8,759.2 L451.8,760.5 L452.9,761.7 L453.9,763.0 L455.0,764.2 L456.0,765.4 L457.1,766.6 L458.1,767.8 L459.1,769.0 L460.2,770.1 L461.2,771.3 L462.2,772.4 L463.3,773.6 L464.3,774.7 L465.4,775.8 L466.4,776.9 L467.4,778.0 L468.4,779.0 L469.4,780.1 L470.5,781.2 L471.5,782.2 L472.5,783.2 L473.5,784.2 L474.6,785.2 L475.6,786.1 L476.7,787.1 L477.8,788.0 L478.8,788.9 L479.9,789.7 L480.9,790.5 L481.9,791.2 L482.9,791.8 L483.5,792.1 L484.1,792.5 L484.7,792.8 L485.2,793.0 L485.8,793.2 L486.4,793.4 L486.9,793.5 L487.5,793.5 L488.2,793.4 L488.8,793.3 L489.5,793.0 L490.2,792.8 L490.9,792.4 L491.6,792.0 L492.2,791.5 L492.8,791.0 L493.5,790.3 L494.2,789.4 L494.9,788.5 L495.5,787.4 L496.1,786.3 L496.7,785.2 L497.3,783.9 L497.8,782.7 L498.5,780.9 L499.1,779.0 L499.6,777.0 L500.1,774.9 L500.6,772.7 L501.1,770.5 L501.5,768.3 L501.9,766.2 L502.3,764.1 L502.7,761.9 L503.0,759.7 L503.3,757.5 L503.6,755.4 L503.9,753.3 L504.1,751.4 L504.4,749.6 L504.6,748.5 L504.7,747.6 L504.8,746.7 L504.9,745.9 L505.0,745.0 L505.2,744.1 L505.3,743.1 L505.5,742.0 L505.9,739.8 L506.3,737.3 L506.8,734.6 L507.4,731.8 L507.9,728.8 L508.5,725.6 L509.1,722.4 L509.6,719.2 L510.3,714.8 L511.0,710.1 L511.7,705.1 L512.3,700.0 L513.0,694.9 L513.7,689.7 L514.3,684.5 L514.9,679.5 L515.5,674.5 L516.0,669.6 L516.5,664.6 L517.0,659.6 L517.4,654.6 L517.9,649.7 L518.3,644.7 L518.8,639.7 L519.2,634.7 L519.7,629.7 L520.1,624.7 L520.5,619.7 L520.9,614.7 L521.4,609.7 L521.8,604.8 L522.2,600.0 L522.6,595.5 L523.0,591.1 L523.4,586.7 L523.9,582.4 L524.3,578.0 L524.7,573.7 L525.1,569.4 L525.5,565.0 L525.9,560.6 L526.3,556.3 L526.6,551.9 L527.0,547.5 L527.4,543.1 L527.8,538.8 L528.1,534.4 L528.5,530.0 L528.9,525.6 L529.2,521.2 L529.6,516.8 L530.0,512.4 L530.4,508.0 L530.7,503.7 L531.1,499.3 L531.5,495.0 L531.9,490.8 L532.2,486.7 L532.6,482.5 L533.0,478.4 L533.3,474.3 L533.7,470.2 L534.1,466.1 L534.5,462.0 L534.9,458.0 L535.3,453.9 L535.7,449.8 L536.1,445.8 L536.6,441.8 L537.0,437.8 L537.5,433.9 L538.0,430.0 L538.5,426.5 L539.0,423.1 L539.6,419.7 L540.2,416.3 L540.8,413.0 L541.4,409.7 L542.0,406.3 L542.5,403.0 L543.0,399.6 L543.5,396.2 L544.0,392.7 L544.5,389.2 L545.0,385.8 L545.5,382.6 L546.0,379.4 L546.5,376.5 L546.9,374.4 L547.3,372.4 L547.6,370.4 L548.0,368.5 L548.4,366.7 L548.9,365.0 L549.4,363.4 L550.0,362.0 L550.5,361.0 L551.1,360.0 L551.6,358.9 L552.3,358.0 L552.9,357.2 L553.5,356.6 L554.1,356.1 L554.7,356.0 L555.3,356.2 L555.8,356.6 L556.4,357.2 L557.0,358.0 L557.5,359.0 L558.0,360.0 L558.5,361.0 L559.0,362.0 L559.6,363.4 L560.1,365.0 L560.5,366.7 L560.9,368.5 L561.2,370.4 L561.6,372.4 L562.0,374.4 L562.4,376.5 L563.0,379.4 L563.7,382.6 L564.4,385.8 L565.2,389.2 L565.9,392.7 L566.5,396.2 L567.2,399.6 L567.7,403.0 L568.2,406.3 L568.6,409.6 L569.0,412.8 L569.3,416.1 L569.6,419.4 L569.9,422.8 L570.2,426.3 L570.5,430.0 L570.9,435.1 L571.2,440.4 L571.6,446.1 L571.9,451.8 L572.2,457.6 L572.5,463.4 L572.8,469.0 L573.2,474.4 L573.6,479.0 L573.9,483.5 L574.3,488.0 L574.7,492.4 L575.1,496.7 L575.5,501.1 L575.9,505.5 L576.3,510.0 L576.8,514.8 L577.2,519.7 L577.7,524.6 L578.2,529.5 L578.7,534.4 L579.2,539.3 L579.7,544.0 L580.2,548.7 L580.7,552.8 L581.1,556.7 L581.6,560.6 L582.0,564.4 L582.5,568.3 L582.9,572.1 L583.4,576.0 L583.8,580.0 L584.2,584.3 L584.6,588.7 L585.0,593.1 L585.4,597.6 L585.8,602.1 L586.2,606.5 L586.5,610.8 L586.9,615.0 L587.2,618.6 L587.5,622.1 L587.8,625.5 L588.1,628.8 L588.4,632.2 L588.7,635.7 L589.0,639.2 L589.3,643.0 L589.7,647.9 L590.0,653.1 L590.4,658.5 L590.7,663.9 L591.1,669.5 L591.5,675.0 L591.9,680.6 L592.3,686.0 L592.8,691.4 L593.2,696.8 L593.7,702.1 L594.2,707.5 L594.8,712.9 L595.3,718.3 L596.0,723.6 L596.6,729.0 L597.3,734.4 L598.0,739.8 L598.8,745.1 L599.5,750.5 L600.4,755.9 L601.2,761.3 L602.1,766.6 L603.0,772.0 L604.0,777.5 L605.0,783.2 L606.0,789.0 L607.1,794.8 L608.2,800.4 L609.3,805.7 L610.5,810.6 L611.6,815.0 L612.3,817.6 L613.0,820.0 L613.6,822.4 L614.3,824.6 L615.0,826.6 L615.7,828.6 L616.6,830.3 L617.5,832.0 L618.3,833.2 L619.1,834.4 L619.9,835.5 L620.8,836.6 L621.7,837.5 L622.7,838.2 L623.6,838.7 L624.5,839.0 L625.3,839.0 L626.1,838.8 L626.9,838.4 L627.8,837.9 L628.6,837.3 L629.4,836.6 L630.2,835.8 L631.0,835.0 L632.2,833.6 L633.3,831.9 L634.5,830.0 L635.6,827.9 L636.6,825.8 L637.7,823.5 L638.7,821.3 L639.6,819.2 L640.5,817.0 L641.4,814.8 L642.2,812.5 L643.0,810.2 L643.7,807.9 L644.5,805.6 L645.2,803.3 L646.0,801.0 L646.8,798.7 L647.6,796.5 L648.4,794.2 L649.2,791.9 L650.0,789.6 L650.8,787.4 L651.6,785.1 L652.4,782.8 L653.2,780.5 L654.0,778.3 L654.7,776.1 L655.5,773.9 L656.3,771.6 L657.1,769.4 L657.9,767.0 L658.7,764.6 L659.7,761.7 L660.7,758.7 L661.7,755.6 L662.8,752.5 L663.9,749.3 L664.9,746.1 L666.1,742.9 L667.2,739.6 L668.5,736.0 L669.8,732.3 L671.1,728.6 L672.5,724.8 L673.9,721.0 L675.3,717.2 L676.7,713.5 L678.1,709.8 L679.5,706.1 L680.8,702.3 L682.1,698.4 L683.4,694.6 L684.8,690.9 L686.4,687.5 L688.1,684.3 L690.0,681.5 L691.7,679.5 L693.6,677.7 L695.7,676.0 L697.8,674.5 L699.9,673.2 L702.0,672.0 L704.1,670.9 L706.0,670.0 L707.3,669.4 L708.6,669.0 L709.9,668.6 L711.2,668.2 L712.4,668.0 L713.7,667.9 L715.0,667.8 L716.4,667.8 L718.1,667.9 L719.8,668.3 L721.6,668.7 L723.4,669.3 L725.2,669.9 L727.0,670.5 L728.7,671.1 L730.3,671.7 L731.6,672.1 L732.9,672.6 L734.1,673.0 L735.3,673.4 L736.4,673.9 L737.6,674.4 L738.7,675.0 L739.9,675.7 L741.2,676.6 L742.5,677.6 L743.7,678.7 L745.0,679.8 L746.2,681.0 L747.5,682.2 L748.7,683.5 L749.9,684.7 L751.2,686.0 L752.4,687.3 L753.6,688.7 L754.9,690.1 L756.1,691.5 L757.3,692.9 L758.6,694.3 L759.8,695.6 L761.0,696.9 L762.2,698.2 L763.5,699.5 L764.7,700.8 L765.9,702.0 L767.2,703.2 L768.4,704.4 L769.7,705.5 L770.9,706.5 L772.1,707.5 L773.4,708.4 L774.6,709.3 L775.9,710.2 L777.1,711.0 L778.4,711.8 L779.7,712.5 L780.9,713.1 L782.1,713.7 L783.4,714.3 L784.6,714.8 L785.8,715.3 L787.1,715.7 L788.3,716.1 L789.6,716.5 L790.8,716.8 L792.0,717.2 L793.2,717.4 L794.4,717.7 L795.6,717.9 L796.9,718.1 L798.2,718.3 L799.5,718.5 L801.1,718.7 L802.8,718.9 L804.6,719.1 L806.4,719.2 L808.2,719.4 L810.0,719.4 L811.7,719.3 L813.4,719.2 L814.9,719.0 L816.3,718.7 L817.7,718.3 L819.1,717.9 L820.5,717.5 L821.9,716.9 L823.2,716.4 L824.6,715.8 L826.0,715.1 L827.4,714.4 L828.8,713.6 L830.2,712.7 L831.6,711.8 L833.0,710.9 L834.3,710.0 L835.7,709.1 L837.1,708.2 L838.5,707.2 L839.9,706.1 L841.3,705.1 L842.7,704.1 L844.1,703.1 L845.5,702.2 L846.9,701.3 L848.3,700.5 L849.6,699.8 L851.0,699.1 L852.4,698.4 L853.8,697.7 L855.2,697.2 L856.6,696.7 L858.0,696.3 L859.4,696.0 L860.8,695.8 L862.2,695.6 L863.6,695.6 L865.0,695.5 L866.4,695.6 L867.8,695.6 L869.2,695.7 L870.6,695.8 L872.0,696.1 L873.4,696.4 L874.8,696.7 L876.1,697.0 L877.5,697.4 L878.9,697.7 L880.3,698.0 L881.7,698.3 L883.1,698.7 L884.5,699.0 L885.9,699.4 L887.3,699.7 L888.7,700.0 L890.1,700.1 L891.5,700.2 L892.9,700.2 L894.3,700.1 L895.7,699.9 L897.1,699.7 L898.5,699.4 L899.9,699.0 L901.3,698.5 L902.6,698.0 L904.0,697.3 L905.5,696.4 L906.9,695.4 L908.2,694.3 L909.6,693.2 L911.0,692.1 L912.4,691.1 L913.8,690.2 L915.2,689.4 L916.6,688.5 L918.1,687.7 L919.5,686.8 L920.9,686.1 L922.3,685.5 L923.7,685.0 L925.0,684.6 L925.9,684.4 L926.8,684.4 L927.7,684.3 L928.5,684.4 L929.4,684.5 L930.2,684.6 L931.1,684.8 L932.0,685.0 L933.1,685.3 L934.2,685.7 L935.3,686.1 L936.5,686.6 L937.6,687.1 L938.8,687.7 L939.9,688.3 L941.1,689.0 L942.5,689.9 L943.8,691.0 L945.1,692.2 L946.4,693.5 L947.8,694.8 L949.2,696.0 L950.7,697.1 L952.3,698.0 L954.2,698.9 L956.2,699.7 L958.4,700.5 L960.6,701.1 L962.8,701.7 L965.0,702.1 L967.0,702.3 L969.0,702.4 L970.5,702.3 L971.9,702.0 L973.3,701.7 L974.6,701.2 L975.9,700.7 L977.3,700.2 L978.7,699.6 L980.2,699.1 L982.1,698.5 L984.1,697.7 L986.2,697.0 L988.3,696.2 L990.5,695.4 L992.6,694.7 L994.8,694.0 L996.9,693.5 L999.0,693.1 L1001.0,692.7 L1003.1,692.4 L1005.2,692.1 L1007.3,691.9 L1009.4,691.7 L1011.5,691.5 L1013.6,691.3 L1015.7,691.1 L1017.9,691.1 L1020.0,691.0 L1022.2,691.0 L1024.3,690.9 L1026.4,690.8 L1028.4,690.5 L1030.3,690.2 L1031.8,689.8 L1033.3,689.4 L1034.8,689.0 L1036.2,688.5 L1037.5,687.9 L1038.9,687.3 L1040.2,686.5 L1041.5,685.7 L1043.0,684.5 L1044.5,683.2 L1045.9,681.8 L1047.3,680.2 L1048.7,678.6 L1050.1,676.9 L1051.4,675.1 L1052.6,673.4 L1053.9,671.5 L1055.1,669.5 L1056.3,667.4 L1057.4,665.3 L1058.5,663.2 L1059.6,661.0 L1060.6,658.8 L1061.6,656.7 L1062.5,654.7 L1063.4,652.7 L1064.2,650.7 L1065.0,648.7 L1065.8,646.6 L1066.6,644.5 L1067.4,642.3 L1068.3,640.0 L1069.5,636.6 L1070.6,632.9 L1071.7,628.9 L1072.9,624.8 L1074.1,620.8 L1075.5,617.0 L1077.0,613.4 L1078.7,610.3 L1080.2,608.0 L1081.9,605.6 L1083.6,603.3 L1085.5,601.1 L1087.3,599.3 L1089.2,597.8 L1091.0,596.8 L1092.7,596.5 L1094.2,596.8 L1095.8,597.6 L1097.4,598.8 L1098.9,600.3 L1100.4,602.1 L1101.8,604.1 L1103.2,606.2 L1104.5,608.2 L1106.2,611.3 L1107.7,614.9 L1109.1,618.9 L1110.4,623.1 L1111.6,627.4 L1112.8,631.8 L1114.0,636.2 L1115.3,640.4 L1116.7,644.7 L1118.0,649.0 L1119.3,653.3 L1120.6,657.7 L1122.0,662.0 L1123.3,666.3 L1124.6,670.6 L1126.0,674.8 L1127.3,678.8 L1128.6,682.8 L1129.8,686.8 L1131.1,690.8 L1132.4,694.6 L1133.8,698.3 L1135.3,701.8 L1136.8,705.0 L1138.0,707.3 L1139.3,709.5 L1140.6,711.7 L1141.9,713.7 L1143.3,715.6 L1144.7,717.3 L1146.1,718.8 L1147.5,720.0 L1148.5,720.7 L1149.6,721.4 L1150.6,721.9 L1151.6,722.4 L1152.7,722.8 L1153.8,723.0 L1154.9,723.2 L1156.1,723.2 L1157.6,723.0 L1159.2,722.6 L1160.8,722.0 L1162.5,721.2 L1164.1,720.3 L1165.8,719.5 L1167.4,718.6 L1169.0,717.8 L1170.4,717.1 L1171.8,716.4 L1173.2,715.6 L1174.5,714.8 L1175.9,714.1 L1177.2,713.3 L1178.6,712.5 L1180.0,711.8 L1181.4,711.1 L1182.9,710.4 L1184.4,709.8 L1185.8,709.1 L1187.3,708.4 L1188.8,707.7 L1190.2,706.9 L1191.6,706.0 L1193.1,704.9 L1194.6,703.7 L1196.0,702.4 L1197.5,701.1 L1198.9,699.8 L1200.3,698.4 L1201.8,697.0 L1203.2,695.6 L1204.7,694.2 L1206.1,692.7 L1207.5,691.1 L1208.9,689.6 L1210.4,688.1 L1211.8,686.6 L1213.3,685.3 L1214.8,684.0 L1216.2,682.9 L1217.6,681.9 L1219.1,680.9 L1220.6,680.0 L1222.0,679.1 L1223.5,678.3 L1224.9,677.7 L1226.3,677.1 L1227.3,676.7 L1228.4,676.4 L1229.4,676.2 L1230.4,676.0 L1231.4,675.9 L1232.4,675.8 L1233.4,675.8 L1234.4,675.9 L1235.5,676.1 L1236.7,676.3 L1237.9,676.7 L1239.0,677.1 L1240.2,677.6 L1241.4,678.1 L1242.5,678.8 L1243.7,679.4 L1245.1,680.3 L1246.6,681.4 L1248.0,682.6 L1249.4,683.8 L1250.9,685.1 L1252.4,686.4 L1253.8,687.6 L1255.3,688.7 L1256.7,689.7 L1258.1,690.7 L1259.6,691.7 L1261.0,692.6 L1262.5,693.5 L1263.9,694.3 L1265.4,695.0 L1266.9,695.6 L1268.3,696.0 L1269.8,696.4 L1271.2,696.7 L1272.7,696.8 L1274.1,697.0 L1275.6,697.0 L1277.1,696.9 L1278.5,696.8 L1280.0,696.5 L1281.4,696.2 L1282.8,695.7 L1284.3,695.2 L1285.7,694.5 L1287.1,693.9 L1288.6,693.2 L1290.0,692.5 L1291.6,691.6 L1293.2,690.7 L1294.9,689.6 L1296.5,688.5 L1298.1,687.5 L1299.8,686.4 L1301.4,685.5 L1303.1,684.8 L1304.7,684.2 L1306.3,683.7 L1307.9,683.3 L1309.5,682.9 L1311.2,682.7 L1312.8,682.4 L1314.5,682.3 L1316.1,682.2 L1317.7,682.2 L1319.4,682.3 L1321.0,682.5 L1322.7,682.7 L1324.3,683.0 L1325.9,683.3 L1327.6,683.7 L1329.2,684.0 L1330.8,684.4 L1332.5,684.7 L1334.1,685.2 L1335.8,685.6 L1337.4,686.1 L1339.0,686.5 L1340.7,687.0 L1342.3,687.5 L1343.9,688.0 L1345.6,688.5 L1347.2,689.1 L1348.8,689.6 L1350.4,690.2 L1352.0,690.8 L1353.7,691.3 L1355.3,691.8 L1356.9,692.3 L1358.6,692.8 L1360.2,693.3 L1361.8,693.8 L1363.5,694.2 L1365.1,694.6 L1366.8,695.0 L1368.4,695.3 L1370.0,695.6 L1371.7,695.8 L1373.3,696.0 L1374.9,696.1 L1376.6,696.2 L1378.2,696.3 L1379.9,696.3 L1381.5,696.2 L1383.1,696.0 L1384.7,695.8 L1386.3,695.5 L1387.9,695.1 L1389.5,694.8 L1391.1,694.4 L1392.8,694.0 L1394.5,693.6 L1396.5,693.2 L1398.5,692.8 L1400.5,692.3 L1402.6,691.9 L1404.7,691.4 L1406.8,691.0 L1408.9,690.5 L1411.0,690.1" stroke="#ff1b1b" stroke-opacity="0.75"/>
</g>
<path d="M219.9,50.65H1408.5V1006.45H219.9Z" fill="none" stroke="#000" stroke-width="4.8" stroke-linejoin="round"/>
<text transform="translate(188.6,65.8) scale(1,1.04)" font-family="Liberation Sans, sans-serif" style="font-kerning:none" font-size="49.3" text-anchor="end" stroke="#000" stroke-width="0.3"> 5</text>
<path d="M151.61,65.80V30.10H151.02C148.55,31.55 142.14,35.81 137.91,38.50L138.41,43.00C141.16,41.70 144.61,39.65 147.01,37.90V65.80Z" fill="#000" stroke="#000" stroke-width="0.3" stroke-linejoin="round"/>
<text transform="translate(188.6,277.6) scale(1,1.04)" font-family="Liberation Sans, sans-serif" style="font-kerning:none" font-size="49.3" text-anchor="end" stroke="#000" stroke-width="0.3"> 0</text>
<path d="M151.61,277.60V241.90H151.02C148.55,243.35 142.14,247.61 137.91,250.30L138.41,254.80C141.16,253.50 144.61,251.45 147.01,249.70V277.60Z" fill="#000" stroke="#000" stroke-width="0.3" stroke-linejoin="round"/>
<text transform="translate(188.6,491) scale(1,1.04)" font-family="Liberation Sans, sans-serif" style="font-kerning:none" font-size="49.3" text-anchor="end" stroke="#000" stroke-width="0.3">5</text>
<text transform="translate(188.6,702.9) scale(1,1.04)" font-family="Liberation Sans, sans-serif" style="font-kerning:none" font-size="49.3" text-anchor="end" stroke="#000" stroke-width="0.3">0</text>
<text transform="translate(188.6,918) scale(1,1.04)" font-family="Liberation Sans, sans-serif" style="font-kerning:none" font-size="49.3" text-anchor="end" stroke="#000" stroke-width="0.3">5</text>
<text transform="translate(319.6,1077.3) scale(1,1.04)" font-family="Liberation Sans, sans-serif" style="font-kerning:none" font-size="49.3" text-anchor="middle" stroke="#000" stroke-width="0.3">2</text>
<text transform="translate(517.7,1077.3) scale(1,1.04)" font-family="Liberation Sans, sans-serif" style="font-kerning:none" font-size="49.3" text-anchor="middle" stroke="#000" stroke-width="0.3">4</text>
<text transform="translate(715.8,1077.3) scale(1,1.04)" font-family="Liberation Sans, sans-serif" style="font-kerning:none" font-size="49.3" text-anchor="middle" stroke="#000" stroke-width="0.3">6</text>
<text transform="translate(914.0,1077.3) scale(1,1.04)" font-family="Liberation Sans, sans-serif" style="font-kerning:none" font-size="49.3" text-anchor="middle" stroke="#000" stroke-width="0.3">8</text>
<text transform="translate(1112.1,1077.3) scale(1,1.04)" font-family="Liberation Sans, sans-serif" style="font-kerning:none" font-size="49.3" text-anchor="middle" stroke="#000" stroke-width="0.3"> 0</text>
<path d="M1102.56,1077.30V1041.60H1101.97C1099.50,1043.05 1093.09,1047.31 1088.86,1050.00L1089.36,1054.50C1092.11,1053.20 1095.56,1051.15 1097.96,1049.40V1077.30Z" fill="#000" stroke="#000" stroke-width="0.3" stroke-linejoin="round"/>
<text transform="translate(1310.3,1077.3) scale(1,1.04)" font-family="Liberation Sans, sans-serif" style="font-kerning:none" font-size="49.3" text-anchor="middle" stroke="#000" stroke-width="0.3"> 2</text>
<path d="M1300.70,1077.30V1041.60H1300.11C1297.64,1043.05 1291.23,1047.31 1287.00,1050.00L1287.50,1054.50C1290.25,1053.20 1293.70,1051.15 1296.10,1049.40V1077.30Z" fill="#000" stroke="#000" stroke-width="0.3" stroke-linejoin="round"/>
<path d="M134.2,904.8H159.4" stroke="#000" stroke-width="2.3"/>
<text transform="translate(815,1170) scale(1,1.04)" font-family="Liberation Sans, sans-serif" style="font-kerning:none" font-size="63.3" text-anchor="middle" stroke="#000" stroke-width="0.5">Time, ps</text>
<text transform="translate(72.6,658.2) rotate(-90) scale(1,1.04)" font-family="Liberation Sans, sans-serif" style="font-kerning:none" font-size="63.3" stroke="#000" stroke-width="0.5">Signal,</text>
<text transform="translate(72.6,411.8) rotate(-90) scale(1,1.04)" font-family="Liberation Sans, sans-serif" style="font-kerning:none" font-size="63.3" stroke="#000" stroke-width="0.5">V</text>
<g fill="#000"><rect x="44.1" y="418.4" width="24.6" height="5.4"/><rect x="44.1" y="437.1" width="28.6" height="5.2"/><path d="M66.4,412.9 C69.8,413 73.7,414.6 73.7,419 L73.6,424 C74.3,428.5 74.2,433 73.1,437.6 L70.6,437.6 C70.8,433.2 70,428.3 67.6,423.8 L68.6,418.4 C69.1,416.2 68.4,414.3 66.4,412.9 Z"/><path d="M72.2,438.4 C75,439.3 78,439.7 80.2,439.4 L80.6,442.7 C77.6,442.5 75,442.4 72.2,442.3 Z"/><ellipse cx="82.7" cy="441.1" rx="3.4" ry="2.6"/></g>
<path d="M1027.5,144.5H1158.5" stroke="#6b9b5a" stroke-width="7" stroke-linecap="round"/>
<text transform="translate(1176,165.5) scale(1,1.04)" font-family="Liberation Sans, sans-serif" style="font-kerning:none" font-size="58.2" stroke="#000" stroke-width="0.4"><tspan font-style="italic">x</tspan> = 0</text>
<path d="M1027.5,216.4H1158.5" stroke="#d0cc5a" stroke-width="7" stroke-linecap="round"/>
<text transform="translate(1176,237.4) scale(1,1.04)" font-family="Liberation Sans, sans-serif" style="font-kerning:none" font-size="58.2" stroke="#000" stroke-width="0.4"><tspan font-style="italic">x</tspan> = 0.03</text>
<path d="M1027.5,288.5H1158.5" stroke="#fcd055" stroke-width="7" stroke-linecap="round"/>
<text transform="translate(1176,309.5) scale(1,1.04)" font-family="Liberation Sans, sans-serif" style="font-kerning:none" font-size="58.2" stroke="#000" stroke-width="0.4"><tspan font-style="italic">x</tspan> = 0. 2</text>
<path d="M1342.07,309.50V267.35H1341.37C1338.46,269.07 1330.89,274.09 1325.89,277.27L1326.49,282.58C1329.73,281.05 1333.80,278.63 1336.64,276.56V309.50Z" fill="#000" stroke="#000" stroke-width="0.4" stroke-linejoin="round"/>
<path d="M1027.5,360.4H1158.5" stroke="#ff9a55" stroke-width="7" stroke-linecap="round"/>
<text transform="translate(1176,381.4) scale(1,1.04)" font-family="Liberation Sans, sans-serif" style="font-kerning:none" font-size="58.2" stroke="#000" stroke-width="0.4"><tspan font-style="italic">x</tspan> = 0. 6</text>
<path d="M1342.07,381.40V339.25H1341.37C1338.46,340.97 1330.89,345.99 1325.89,349.17L1326.49,354.48C1329.73,352.95 1333.80,350.53 1336.64,348.46V381.40Z" fill="#000" stroke="#000" stroke-width="0.4" stroke-linejoin="round"/>
<path d="M1027.5,432.3H1158.5" stroke="#ff5454" stroke-width="7" stroke-linecap="round"/>
<text transform="translate(1176,453.3) scale(1,1.04)" font-family="Liberation Sans, sans-serif" style="font-kerning:none" font-size="58.2" stroke="#000" stroke-width="0.4"><tspan font-style="italic">x</tspan> = 0.22</text>
</svg></body></html>
